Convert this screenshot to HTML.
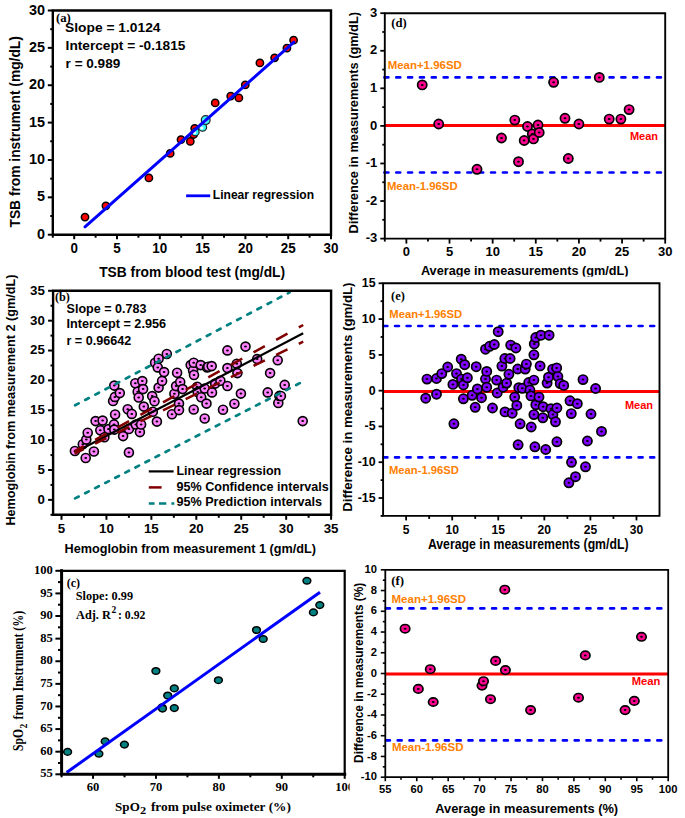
<!DOCTYPE html>
<html><head><meta charset="utf-8"><style>
html,body{margin:0;padding:0;background:#fff;}
svg{display:block;}
</style></head><body>
<svg width="685" height="818" viewBox="0 0 685 818">
<rect width="685" height="818" fill="#fff"/>
<circle cx="85.00" cy="217.10" r="3.65" fill="#ff0000" stroke="#000" stroke-width="1.5"/>
<circle cx="105.90" cy="205.80" r="3.65" fill="#ff0000" stroke="#000" stroke-width="1.5"/>
<circle cx="148.90" cy="177.90" r="3.65" fill="#ff0000" stroke="#000" stroke-width="1.5"/>
<circle cx="170.20" cy="153.40" r="3.65" fill="#ff0000" stroke="#000" stroke-width="1.5"/>
<circle cx="181.00" cy="139.60" r="3.65" fill="#ff0000" stroke="#000" stroke-width="1.5"/>
<circle cx="190.30" cy="141.40" r="3.65" fill="#ff0000" stroke="#000" stroke-width="1.5"/>
<circle cx="193.70" cy="134.50" r="3.65" fill="#ff0000" stroke="#000" stroke-width="1.5"/>
<circle cx="194.70" cy="128.40" r="3.65" fill="#ff0000" stroke="#000" stroke-width="1.5"/>
<circle cx="215.20" cy="102.90" r="3.65" fill="#ff0000" stroke="#000" stroke-width="1.5"/>
<circle cx="230.70" cy="96.10" r="3.65" fill="#ff0000" stroke="#000" stroke-width="1.5"/>
<circle cx="238.90" cy="97.90" r="3.65" fill="#ff0000" stroke="#000" stroke-width="1.5"/>
<circle cx="245.30" cy="84.80" r="3.65" fill="#ff0000" stroke="#000" stroke-width="1.5"/>
<circle cx="259.90" cy="62.90" r="3.65" fill="#ff0000" stroke="#000" stroke-width="1.5"/>
<circle cx="274.60" cy="57.80" r="3.65" fill="#ff0000" stroke="#000" stroke-width="1.5"/>
<circle cx="286.90" cy="48.20" r="3.65" fill="#ff0000" stroke="#000" stroke-width="1.5"/>
<circle cx="293.60" cy="40.20" r="3.65" fill="#ff0000" stroke="#000" stroke-width="1.5"/>
<circle cx="195.3" cy="132.0" r="3.8" fill="#30f8f8" stroke="#222" stroke-width="1.2"/>
<circle cx="194.5" cy="132.8" r="1.71" fill="#e8ffff"/>
<circle cx="202.6" cy="127.2" r="4.0" fill="#30f8f8" stroke="#222" stroke-width="1.2"/>
<circle cx="201.79999999999998" cy="128.0" r="1.80" fill="#e8ffff"/>
<circle cx="205.7" cy="120.1" r="4.4" fill="#30f8f8" stroke="#222" stroke-width="1.2"/>
<circle cx="204.89999999999998" cy="120.89999999999999" r="1.98" fill="#e8ffff"/>
<line x1="85.00" y1="226.80" x2="293.90" y2="42.20" stroke="#0000ff" stroke-width="3" stroke-linecap="round"/>
<path d="M52.80 10.50 H331.00 V234.70 H52.80 Z" fill="none" stroke="#000" stroke-width="2.4" stroke-linejoin="miter" stroke-linecap="square"/>
<line x1="47.80" y1="234.70" x2="52.80" y2="234.70" stroke="#000" stroke-width="2"/>
<line x1="47.80" y1="197.33" x2="52.80" y2="197.33" stroke="#000" stroke-width="2"/>
<line x1="47.80" y1="159.97" x2="52.80" y2="159.97" stroke="#000" stroke-width="2"/>
<line x1="47.80" y1="122.60" x2="52.80" y2="122.60" stroke="#000" stroke-width="2"/>
<line x1="47.80" y1="85.23" x2="52.80" y2="85.23" stroke="#000" stroke-width="2"/>
<line x1="47.80" y1="47.87" x2="52.80" y2="47.87" stroke="#000" stroke-width="2"/>
<line x1="47.80" y1="10.50" x2="52.80" y2="10.50" stroke="#000" stroke-width="2"/>
<line x1="50.20" y1="216.02" x2="52.80" y2="216.02" stroke="#000" stroke-width="2"/>
<line x1="50.20" y1="178.65" x2="52.80" y2="178.65" stroke="#000" stroke-width="2"/>
<line x1="50.20" y1="141.28" x2="52.80" y2="141.28" stroke="#000" stroke-width="2"/>
<line x1="50.20" y1="103.92" x2="52.80" y2="103.92" stroke="#000" stroke-width="2"/>
<line x1="50.20" y1="66.55" x2="52.80" y2="66.55" stroke="#000" stroke-width="2"/>
<line x1="50.20" y1="29.18" x2="52.80" y2="29.18" stroke="#000" stroke-width="2"/>
<line x1="74.20" y1="234.70" x2="74.20" y2="239.20" stroke="#000" stroke-width="2"/>
<line x1="117.00" y1="234.70" x2="117.00" y2="239.20" stroke="#000" stroke-width="2"/>
<line x1="159.80" y1="234.70" x2="159.80" y2="239.20" stroke="#000" stroke-width="2"/>
<line x1="202.60" y1="234.70" x2="202.60" y2="239.20" stroke="#000" stroke-width="2"/>
<line x1="245.40" y1="234.70" x2="245.40" y2="239.20" stroke="#000" stroke-width="2"/>
<line x1="288.20" y1="234.70" x2="288.20" y2="239.20" stroke="#000" stroke-width="2"/>
<line x1="331.00" y1="234.70" x2="331.00" y2="239.20" stroke="#000" stroke-width="2"/>
<line x1="52.80" y1="234.70" x2="52.80" y2="237.70" stroke="#000" stroke-width="2"/>
<line x1="95.60" y1="234.70" x2="95.60" y2="237.70" stroke="#000" stroke-width="2"/>
<line x1="138.40" y1="234.70" x2="138.40" y2="237.70" stroke="#000" stroke-width="2"/>
<line x1="181.20" y1="234.70" x2="181.20" y2="237.70" stroke="#000" stroke-width="2"/>
<line x1="224.00" y1="234.70" x2="224.00" y2="237.70" stroke="#000" stroke-width="2"/>
<line x1="266.80" y1="234.70" x2="266.80" y2="237.70" stroke="#000" stroke-width="2"/>
<line x1="309.60" y1="234.70" x2="309.60" y2="237.70" stroke="#000" stroke-width="2"/>
<text x="45.10" y="238.81" font-family='"Liberation Sans",sans-serif' font-weight="bold" font-size="14.4" fill="#000" text-anchor="end">0</text>
<text x="45.10" y="201.45" font-family='"Liberation Sans",sans-serif' font-weight="bold" font-size="14.4" fill="#000" text-anchor="end">5</text>
<text x="45.10" y="164.08" font-family='"Liberation Sans",sans-serif' font-weight="bold" font-size="14.4" fill="#000" text-anchor="end">10</text>
<text x="45.10" y="126.71" font-family='"Liberation Sans",sans-serif' font-weight="bold" font-size="14.4" fill="#000" text-anchor="end">15</text>
<text x="45.10" y="89.35" font-family='"Liberation Sans",sans-serif' font-weight="bold" font-size="14.4" fill="#000" text-anchor="end">20</text>
<text x="45.10" y="51.98" font-family='"Liberation Sans",sans-serif' font-weight="bold" font-size="14.4" fill="#000" text-anchor="end">25</text>
<text x="45.10" y="14.61" font-family='"Liberation Sans",sans-serif' font-weight="bold" font-size="14.4" fill="#000" text-anchor="end">30</text>
<text x="74.20" y="253.00" font-family='"Liberation Sans",sans-serif' font-weight="bold" font-size="14.4" fill="#000" text-anchor="middle" textLength="7.45" lengthAdjust="spacingAndGlyphs">0</text>
<text x="117.00" y="253.00" font-family='"Liberation Sans",sans-serif' font-weight="bold" font-size="14.4" fill="#000" text-anchor="middle" textLength="7.45" lengthAdjust="spacingAndGlyphs">5</text>
<text x="159.80" y="253.00" font-family='"Liberation Sans",sans-serif' font-weight="bold" font-size="14.4" fill="#000" text-anchor="middle" textLength="14.90" lengthAdjust="spacingAndGlyphs">10</text>
<text x="202.60" y="253.00" font-family='"Liberation Sans",sans-serif' font-weight="bold" font-size="14.4" fill="#000" text-anchor="middle" textLength="14.90" lengthAdjust="spacingAndGlyphs">15</text>
<text x="245.40" y="253.00" font-family='"Liberation Sans",sans-serif' font-weight="bold" font-size="14.4" fill="#000" text-anchor="middle" textLength="14.90" lengthAdjust="spacingAndGlyphs">20</text>
<text x="288.20" y="253.00" font-family='"Liberation Sans",sans-serif' font-weight="bold" font-size="14.4" fill="#000" text-anchor="middle" textLength="14.90" lengthAdjust="spacingAndGlyphs">25</text>
<text x="331.00" y="253.00" font-family='"Liberation Sans",sans-serif' font-weight="bold" font-size="14.4" fill="#000" text-anchor="middle" textLength="14.90" lengthAdjust="spacingAndGlyphs">30</text>
<text x="20.40" y="227.50" font-family='"Liberation Sans",sans-serif' font-weight="bold" font-size="13.8" fill="#000" text-anchor="start" textLength="191.38" lengthAdjust="spacingAndGlyphs" transform="rotate(-90 20.40 227.50)">TSB from instrument (mg/dL)</text>
<text x="99.20" y="276.70" font-family='"Liberation Sans",sans-serif' font-weight="bold" font-size="13.8" fill="#000" text-anchor="start" textLength="185.88" lengthAdjust="spacingAndGlyphs">TSB from blood test (mg/dL)</text>
<text x="55.90" y="22.10" font-family='"Liberation Serif",serif' font-weight="bold" font-size="12.2" fill="#000" text-anchor="start" textLength="14.91" lengthAdjust="spacingAndGlyphs">(a)</text>
<text x="65.00" y="32.40" font-family='"Liberation Sans",sans-serif' font-weight="bold" font-size="13.7" fill="#000" text-anchor="start" textLength="95.51" lengthAdjust="spacingAndGlyphs">Slope = 1.0124</text>
<text x="65.60" y="50.40" font-family='"Liberation Sans",sans-serif' font-weight="bold" font-size="13.7" fill="#000" text-anchor="start" textLength="119.79" lengthAdjust="spacingAndGlyphs">Intercept = -0.1815</text>
<text x="65.60" y="67.60" font-family='"Liberation Sans",sans-serif' font-weight="bold" font-size="13.7" fill="#000" text-anchor="start" textLength="54.62" lengthAdjust="spacingAndGlyphs">r = 0.989</text>
<line x1="186.10" y1="195.80" x2="210.20" y2="195.80" stroke="#0000ff" stroke-width="2.8"/>
<text x="212.80" y="199.30" font-family='"Liberation Sans",sans-serif' font-weight="bold" font-size="12.2" fill="#000" text-anchor="start" textLength="101.23" lengthAdjust="spacingAndGlyphs">Linear regression</text>
<line x1="384.40" y1="77.40" x2="664.20" y2="77.40" stroke="#0000ff" stroke-width="2.6" stroke-dasharray="4.00 7.85" stroke-linecap="round"/>
<line x1="384.40" y1="172.50" x2="664.20" y2="172.50" stroke="#0000ff" stroke-width="2.6" stroke-dasharray="4.00 7.85" stroke-linecap="round"/>
<line x1="384.80" y1="125.50" x2="665.20" y2="125.50" stroke="#ff0000" stroke-width="2.9"/>
<circle cx="422.20" cy="84.90" r="4.6" fill="#ff0090" stroke="#000" stroke-width="1.7"/>
<ellipse cx="422.20" cy="84.90" rx="1.40" ry="1.00" fill="#000"/>
<circle cx="438.70" cy="124.00" r="4.6" fill="#ff0090" stroke="#000" stroke-width="1.7"/>
<ellipse cx="438.70" cy="124.00" rx="1.40" ry="1.00" fill="#000"/>
<circle cx="477.00" cy="169.30" r="4.6" fill="#ff0090" stroke="#000" stroke-width="1.7"/>
<ellipse cx="477.00" cy="169.30" rx="1.40" ry="1.00" fill="#000"/>
<circle cx="501.50" cy="138.00" r="4.6" fill="#ff0090" stroke="#000" stroke-width="1.7"/>
<ellipse cx="501.50" cy="138.00" rx="1.40" ry="1.00" fill="#000"/>
<circle cx="514.80" cy="120.10" r="4.6" fill="#ff0090" stroke="#000" stroke-width="1.7"/>
<ellipse cx="514.80" cy="120.10" rx="1.40" ry="1.00" fill="#000"/>
<circle cx="518.50" cy="161.70" r="4.6" fill="#ff0090" stroke="#000" stroke-width="1.7"/>
<ellipse cx="518.50" cy="161.70" rx="1.40" ry="1.00" fill="#000"/>
<circle cx="524.20" cy="140.50" r="4.6" fill="#ff0090" stroke="#000" stroke-width="1.7"/>
<ellipse cx="524.20" cy="140.50" rx="1.40" ry="1.00" fill="#000"/>
<circle cx="527.50" cy="126.50" r="4.6" fill="#ff0090" stroke="#000" stroke-width="1.7"/>
<ellipse cx="527.50" cy="126.50" rx="1.40" ry="1.00" fill="#000"/>
<circle cx="532.30" cy="134.00" r="4.6" fill="#ff0090" stroke="#000" stroke-width="1.7"/>
<ellipse cx="532.30" cy="134.00" rx="1.40" ry="1.00" fill="#000"/>
<circle cx="533.50" cy="138.90" r="4.6" fill="#ff0090" stroke="#000" stroke-width="1.7"/>
<ellipse cx="533.50" cy="138.90" rx="1.40" ry="1.00" fill="#000"/>
<circle cx="538.00" cy="125.00" r="4.6" fill="#ff0090" stroke="#000" stroke-width="1.7"/>
<ellipse cx="538.00" cy="125.00" rx="1.40" ry="1.00" fill="#000"/>
<circle cx="539.20" cy="132.50" r="4.6" fill="#ff0090" stroke="#000" stroke-width="1.7"/>
<ellipse cx="539.20" cy="132.50" rx="1.40" ry="1.00" fill="#000"/>
<circle cx="553.60" cy="82.30" r="4.6" fill="#ff0090" stroke="#000" stroke-width="1.7"/>
<ellipse cx="553.60" cy="82.30" rx="1.40" ry="1.00" fill="#000"/>
<circle cx="565.00" cy="118.30" r="4.6" fill="#ff0090" stroke="#000" stroke-width="1.7"/>
<ellipse cx="565.00" cy="118.30" rx="1.40" ry="1.00" fill="#000"/>
<circle cx="568.30" cy="158.50" r="4.6" fill="#ff0090" stroke="#000" stroke-width="1.7"/>
<ellipse cx="568.30" cy="158.50" rx="1.40" ry="1.00" fill="#000"/>
<circle cx="578.90" cy="124.00" r="4.6" fill="#ff0090" stroke="#000" stroke-width="1.7"/>
<ellipse cx="578.90" cy="124.00" rx="1.40" ry="1.00" fill="#000"/>
<circle cx="599.30" cy="77.40" r="4.6" fill="#ff0090" stroke="#000" stroke-width="1.7"/>
<ellipse cx="599.30" cy="77.40" rx="1.40" ry="1.00" fill="#000"/>
<circle cx="609.20" cy="119.10" r="4.6" fill="#ff0090" stroke="#000" stroke-width="1.7"/>
<ellipse cx="609.20" cy="119.10" rx="1.40" ry="1.00" fill="#000"/>
<circle cx="620.90" cy="119.10" r="4.6" fill="#ff0090" stroke="#000" stroke-width="1.7"/>
<ellipse cx="620.90" cy="119.10" rx="1.40" ry="1.00" fill="#000"/>
<circle cx="629.10" cy="109.60" r="4.6" fill="#ff0090" stroke="#000" stroke-width="1.7"/>
<ellipse cx="629.10" cy="109.60" rx="1.40" ry="1.00" fill="#000"/>
<path d="M384.80 13.20 H665.20 V238.60 H384.80 Z" fill="none" stroke="#000" stroke-width="1.9" stroke-linejoin="miter" stroke-linecap="square"/>
<line x1="380.30" y1="238.60" x2="384.80" y2="238.60" stroke="#000" stroke-width="1.8"/>
<line x1="380.30" y1="201.03" x2="384.80" y2="201.03" stroke="#000" stroke-width="1.8"/>
<line x1="380.30" y1="163.47" x2="384.80" y2="163.47" stroke="#000" stroke-width="1.8"/>
<line x1="380.30" y1="125.90" x2="384.80" y2="125.90" stroke="#000" stroke-width="1.8"/>
<line x1="380.30" y1="88.33" x2="384.80" y2="88.33" stroke="#000" stroke-width="1.8"/>
<line x1="380.30" y1="50.77" x2="384.80" y2="50.77" stroke="#000" stroke-width="1.8"/>
<line x1="380.30" y1="13.20" x2="384.80" y2="13.20" stroke="#000" stroke-width="1.8"/>
<line x1="382.30" y1="219.82" x2="384.80" y2="219.82" stroke="#000" stroke-width="1.8"/>
<line x1="382.30" y1="182.25" x2="384.80" y2="182.25" stroke="#000" stroke-width="1.8"/>
<line x1="382.30" y1="144.68" x2="384.80" y2="144.68" stroke="#000" stroke-width="1.8"/>
<line x1="382.30" y1="107.12" x2="384.80" y2="107.12" stroke="#000" stroke-width="1.8"/>
<line x1="382.30" y1="69.55" x2="384.80" y2="69.55" stroke="#000" stroke-width="1.8"/>
<line x1="382.30" y1="31.98" x2="384.80" y2="31.98" stroke="#000" stroke-width="1.8"/>
<line x1="406.37" y1="238.60" x2="406.37" y2="243.60" stroke="#000" stroke-width="1.8"/>
<line x1="449.51" y1="238.60" x2="449.51" y2="243.60" stroke="#000" stroke-width="1.8"/>
<line x1="492.65" y1="238.60" x2="492.65" y2="243.60" stroke="#000" stroke-width="1.8"/>
<line x1="535.78" y1="238.60" x2="535.78" y2="243.60" stroke="#000" stroke-width="1.8"/>
<line x1="578.92" y1="238.60" x2="578.92" y2="243.60" stroke="#000" stroke-width="1.8"/>
<line x1="622.06" y1="238.60" x2="622.06" y2="243.60" stroke="#000" stroke-width="1.8"/>
<line x1="665.20" y1="238.60" x2="665.20" y2="243.60" stroke="#000" stroke-width="1.8"/>
<line x1="384.80" y1="238.60" x2="384.80" y2="241.60" stroke="#000" stroke-width="1.8"/>
<line x1="427.94" y1="238.60" x2="427.94" y2="241.60" stroke="#000" stroke-width="1.8"/>
<line x1="471.08" y1="238.60" x2="471.08" y2="241.60" stroke="#000" stroke-width="1.8"/>
<line x1="514.22" y1="238.60" x2="514.22" y2="241.60" stroke="#000" stroke-width="1.8"/>
<line x1="557.35" y1="238.60" x2="557.35" y2="241.60" stroke="#000" stroke-width="1.8"/>
<line x1="600.49" y1="238.60" x2="600.49" y2="241.60" stroke="#000" stroke-width="1.8"/>
<line x1="643.63" y1="238.60" x2="643.63" y2="241.60" stroke="#000" stroke-width="1.8"/>
<text x="377.20" y="242.22" font-family='"Liberation Sans",sans-serif' font-weight="bold" font-size="13" fill="#000" text-anchor="end">-3</text>
<text x="377.20" y="204.65" font-family='"Liberation Sans",sans-serif' font-weight="bold" font-size="13" fill="#000" text-anchor="end">-2</text>
<text x="377.20" y="167.08" font-family='"Liberation Sans",sans-serif' font-weight="bold" font-size="13" fill="#000" text-anchor="end">-1</text>
<text x="377.20" y="129.51" font-family='"Liberation Sans",sans-serif' font-weight="bold" font-size="13" fill="#000" text-anchor="end">0</text>
<text x="377.20" y="91.95" font-family='"Liberation Sans",sans-serif' font-weight="bold" font-size="13" fill="#000" text-anchor="end">1</text>
<text x="377.20" y="54.38" font-family='"Liberation Sans",sans-serif' font-weight="bold" font-size="13" fill="#000" text-anchor="end">2</text>
<text x="377.20" y="16.81" font-family='"Liberation Sans",sans-serif' font-weight="bold" font-size="13" fill="#000" text-anchor="end">3</text>
<text x="406.37" y="256.00" font-family='"Liberation Sans",sans-serif' font-weight="bold" font-size="13" fill="#000" text-anchor="middle">0</text>
<text x="449.51" y="256.00" font-family='"Liberation Sans",sans-serif' font-weight="bold" font-size="13" fill="#000" text-anchor="middle">5</text>
<text x="492.65" y="256.00" font-family='"Liberation Sans",sans-serif' font-weight="bold" font-size="13" fill="#000" text-anchor="middle">10</text>
<text x="535.78" y="256.00" font-family='"Liberation Sans",sans-serif' font-weight="bold" font-size="13" fill="#000" text-anchor="middle">15</text>
<text x="578.92" y="256.00" font-family='"Liberation Sans",sans-serif' font-weight="bold" font-size="13" fill="#000" text-anchor="middle">20</text>
<text x="622.06" y="256.00" font-family='"Liberation Sans",sans-serif' font-weight="bold" font-size="13" fill="#000" text-anchor="middle">25</text>
<text x="665.20" y="256.00" font-family='"Liberation Sans",sans-serif' font-weight="bold" font-size="13" fill="#000" text-anchor="middle">30</text>
<text x="357.60" y="233.50" font-family='"Liberation Sans",sans-serif' font-weight="bold" font-size="13" fill="#000" text-anchor="start" textLength="221.47" lengthAdjust="spacingAndGlyphs" transform="rotate(-90 357.60 233.50)">Difference in measurements (gm/dL)</text>
<text x="420.90" y="274.70" font-family='"Liberation Sans",sans-serif' font-weight="bold" font-size="13" fill="#000" text-anchor="start" textLength="207.62" lengthAdjust="spacingAndGlyphs">Average in measurements (gm/dL)</text>
<text x="391.30" y="27.40" font-family='"Liberation Serif",serif' font-weight="bold" font-size="12.2" fill="#000" text-anchor="start" textLength="15.43" lengthAdjust="spacingAndGlyphs">(d)</text>
<text x="387.70" y="69.20" font-family='"Liberation Sans",sans-serif' font-weight="bold" font-size="10.6" fill="#ff8000" text-anchor="start" textLength="74.11" lengthAdjust="spacingAndGlyphs">Mean+1.96SD</text>
<text x="386.90" y="189.70" font-family='"Liberation Sans",sans-serif' font-weight="bold" font-size="10.6" fill="#ff8000" text-anchor="start" textLength="70.70" lengthAdjust="spacingAndGlyphs">Mean-1.96SD</text>
<text x="629.90" y="139.80" font-family='"Liberation Sans",sans-serif' font-weight="bold" font-size="11.2" fill="#ff0000" text-anchor="start" textLength="28.21" lengthAdjust="spacingAndGlyphs">Mean</text>
<rect x="340.00" y="276.60" width="345.00" height="280.00" fill="#fff" stroke="none" stroke-width="0"/>
<circle cx="74.90" cy="451.00" r="4.5" fill="#ff80ff" stroke="#000" stroke-width="1.6"/>
<ellipse cx="74.90" cy="451.00" rx="1.40" ry="1.00" fill="#000"/>
<circle cx="82.80" cy="444.20" r="4.5" fill="#ff80ff" stroke="#000" stroke-width="1.6"/>
<ellipse cx="82.80" cy="444.20" rx="1.40" ry="1.00" fill="#000"/>
<circle cx="85.70" cy="458.00" r="4.5" fill="#ff80ff" stroke="#000" stroke-width="1.6"/>
<ellipse cx="85.70" cy="458.00" rx="1.40" ry="1.00" fill="#000"/>
<circle cx="86.30" cy="439.60" r="4.5" fill="#ff80ff" stroke="#000" stroke-width="1.6"/>
<ellipse cx="86.30" cy="439.60" rx="1.40" ry="1.00" fill="#000"/>
<circle cx="87.70" cy="432.80" r="4.5" fill="#ff80ff" stroke="#000" stroke-width="1.6"/>
<ellipse cx="87.70" cy="432.80" rx="1.40" ry="1.00" fill="#000"/>
<circle cx="93.90" cy="451.50" r="4.5" fill="#ff80ff" stroke="#000" stroke-width="1.6"/>
<ellipse cx="93.90" cy="451.50" rx="1.40" ry="1.00" fill="#000"/>
<circle cx="95.60" cy="421.10" r="4.5" fill="#ff80ff" stroke="#000" stroke-width="1.6"/>
<ellipse cx="95.60" cy="421.10" rx="1.40" ry="1.00" fill="#000"/>
<circle cx="100.30" cy="430.20" r="4.5" fill="#ff80ff" stroke="#000" stroke-width="1.6"/>
<ellipse cx="100.30" cy="430.20" rx="1.40" ry="1.00" fill="#000"/>
<circle cx="102.60" cy="420.60" r="4.5" fill="#ff80ff" stroke="#000" stroke-width="1.6"/>
<ellipse cx="102.60" cy="420.60" rx="1.40" ry="1.00" fill="#000"/>
<circle cx="104.40" cy="437.20" r="4.5" fill="#ff80ff" stroke="#000" stroke-width="1.6"/>
<ellipse cx="104.40" cy="437.20" rx="1.40" ry="1.00" fill="#000"/>
<circle cx="108.50" cy="429.10" r="4.5" fill="#ff80ff" stroke="#000" stroke-width="1.6"/>
<ellipse cx="108.50" cy="429.10" rx="1.40" ry="1.00" fill="#000"/>
<circle cx="113.10" cy="401.00" r="4.5" fill="#ff80ff" stroke="#000" stroke-width="1.6"/>
<ellipse cx="113.10" cy="401.00" rx="1.40" ry="1.00" fill="#000"/>
<circle cx="114.00" cy="424.40" r="4.5" fill="#ff80ff" stroke="#000" stroke-width="1.6"/>
<ellipse cx="114.00" cy="424.40" rx="1.40" ry="1.00" fill="#000"/>
<circle cx="114.30" cy="385.60" r="4.5" fill="#ff80ff" stroke="#000" stroke-width="1.6"/>
<ellipse cx="114.30" cy="385.60" rx="1.40" ry="1.00" fill="#000"/>
<circle cx="114.30" cy="429.60" r="4.5" fill="#ff80ff" stroke="#000" stroke-width="1.6"/>
<ellipse cx="114.30" cy="429.60" rx="1.40" ry="1.00" fill="#000"/>
<circle cx="114.90" cy="396.90" r="4.5" fill="#ff80ff" stroke="#000" stroke-width="1.6"/>
<ellipse cx="114.90" cy="396.90" rx="1.40" ry="1.00" fill="#000"/>
<circle cx="115.10" cy="414.50" r="4.5" fill="#ff80ff" stroke="#000" stroke-width="1.6"/>
<ellipse cx="115.10" cy="414.50" rx="1.40" ry="1.00" fill="#000"/>
<circle cx="119.80" cy="393.10" r="4.5" fill="#ff80ff" stroke="#000" stroke-width="1.6"/>
<ellipse cx="119.80" cy="393.10" rx="1.40" ry="1.00" fill="#000"/>
<circle cx="123.10" cy="436.10" r="4.5" fill="#ff80ff" stroke="#000" stroke-width="1.6"/>
<ellipse cx="123.10" cy="436.10" rx="1.40" ry="1.00" fill="#000"/>
<circle cx="127.70" cy="409.20" r="4.5" fill="#ff80ff" stroke="#000" stroke-width="1.6"/>
<ellipse cx="127.70" cy="409.20" rx="1.40" ry="1.00" fill="#000"/>
<circle cx="128.90" cy="429.00" r="4.5" fill="#ff80ff" stroke="#000" stroke-width="1.6"/>
<ellipse cx="128.90" cy="429.00" rx="1.40" ry="1.00" fill="#000"/>
<circle cx="128.90" cy="452.40" r="4.5" fill="#ff80ff" stroke="#000" stroke-width="1.6"/>
<ellipse cx="128.90" cy="452.40" rx="1.40" ry="1.00" fill="#000"/>
<circle cx="131.80" cy="413.90" r="4.5" fill="#ff80ff" stroke="#000" stroke-width="1.6"/>
<ellipse cx="131.80" cy="413.90" rx="1.40" ry="1.00" fill="#000"/>
<circle cx="135.30" cy="383.30" r="4.5" fill="#ff80ff" stroke="#000" stroke-width="1.6"/>
<ellipse cx="135.30" cy="383.30" rx="1.40" ry="1.00" fill="#000"/>
<circle cx="135.80" cy="424.50" r="4.5" fill="#ff80ff" stroke="#000" stroke-width="1.6"/>
<ellipse cx="135.80" cy="424.50" rx="1.40" ry="1.00" fill="#000"/>
<circle cx="137.70" cy="391.70" r="4.5" fill="#ff80ff" stroke="#000" stroke-width="1.6"/>
<ellipse cx="137.70" cy="391.70" rx="1.40" ry="1.00" fill="#000"/>
<circle cx="138.70" cy="397.50" r="4.5" fill="#ff80ff" stroke="#000" stroke-width="1.6"/>
<ellipse cx="138.70" cy="397.50" rx="1.40" ry="1.00" fill="#000"/>
<circle cx="139.90" cy="432.10" r="4.5" fill="#ff80ff" stroke="#000" stroke-width="1.6"/>
<ellipse cx="139.90" cy="432.10" rx="1.40" ry="1.00" fill="#000"/>
<circle cx="141.10" cy="424.50" r="4.5" fill="#ff80ff" stroke="#000" stroke-width="1.6"/>
<ellipse cx="141.10" cy="424.50" rx="1.40" ry="1.00" fill="#000"/>
<circle cx="142.30" cy="381.10" r="4.5" fill="#ff80ff" stroke="#000" stroke-width="1.6"/>
<ellipse cx="142.30" cy="381.10" rx="1.40" ry="1.00" fill="#000"/>
<circle cx="143.10" cy="389.10" r="4.5" fill="#ff80ff" stroke="#000" stroke-width="1.6"/>
<ellipse cx="143.10" cy="389.10" rx="1.40" ry="1.00" fill="#000"/>
<circle cx="143.80" cy="406.60" r="4.5" fill="#ff80ff" stroke="#000" stroke-width="1.6"/>
<ellipse cx="143.80" cy="406.60" rx="1.40" ry="1.00" fill="#000"/>
<circle cx="152.20" cy="396.10" r="4.5" fill="#ff80ff" stroke="#000" stroke-width="1.6"/>
<ellipse cx="152.20" cy="396.10" rx="1.40" ry="1.00" fill="#000"/>
<circle cx="152.80" cy="411.80" r="4.5" fill="#ff80ff" stroke="#000" stroke-width="1.6"/>
<ellipse cx="152.80" cy="411.80" rx="1.40" ry="1.00" fill="#000"/>
<circle cx="154.50" cy="401.30" r="4.5" fill="#ff80ff" stroke="#000" stroke-width="1.6"/>
<ellipse cx="154.50" cy="401.30" rx="1.40" ry="1.00" fill="#000"/>
<circle cx="155.10" cy="362.80" r="4.5" fill="#ff80ff" stroke="#000" stroke-width="1.6"/>
<ellipse cx="155.10" cy="362.80" rx="1.40" ry="1.00" fill="#000"/>
<circle cx="156.90" cy="421.60" r="4.5" fill="#ff80ff" stroke="#000" stroke-width="1.6"/>
<ellipse cx="156.90" cy="421.60" rx="1.40" ry="1.00" fill="#000"/>
<circle cx="157.80" cy="367.40" r="4.5" fill="#ff80ff" stroke="#000" stroke-width="1.6"/>
<ellipse cx="157.80" cy="367.40" rx="1.40" ry="1.00" fill="#000"/>
<circle cx="158.60" cy="358.70" r="4.5" fill="#ff80ff" stroke="#000" stroke-width="1.6"/>
<ellipse cx="158.60" cy="358.70" rx="1.40" ry="1.00" fill="#000"/>
<circle cx="158.60" cy="387.60" r="4.5" fill="#ff80ff" stroke="#000" stroke-width="1.6"/>
<ellipse cx="158.60" cy="387.60" rx="1.40" ry="1.00" fill="#000"/>
<circle cx="162.10" cy="380.90" r="4.5" fill="#ff80ff" stroke="#000" stroke-width="1.6"/>
<ellipse cx="162.10" cy="380.90" rx="1.40" ry="1.00" fill="#000"/>
<circle cx="164.10" cy="372.10" r="4.5" fill="#ff80ff" stroke="#000" stroke-width="1.6"/>
<ellipse cx="164.10" cy="372.10" rx="1.40" ry="1.00" fill="#000"/>
<circle cx="166.80" cy="354.00" r="4.5" fill="#ff80ff" stroke="#000" stroke-width="1.6"/>
<ellipse cx="166.80" cy="354.00" rx="1.40" ry="1.00" fill="#000"/>
<circle cx="172.00" cy="414.20" r="4.5" fill="#ff80ff" stroke="#000" stroke-width="1.6"/>
<ellipse cx="172.00" cy="414.20" rx="1.40" ry="1.00" fill="#000"/>
<circle cx="174.40" cy="393.70" r="4.5" fill="#ff80ff" stroke="#000" stroke-width="1.6"/>
<ellipse cx="174.40" cy="393.70" rx="1.40" ry="1.00" fill="#000"/>
<circle cx="176.10" cy="386.10" r="4.5" fill="#ff80ff" stroke="#000" stroke-width="1.6"/>
<ellipse cx="176.10" cy="386.10" rx="1.40" ry="1.00" fill="#000"/>
<circle cx="177.10" cy="372.70" r="4.5" fill="#ff80ff" stroke="#000" stroke-width="1.6"/>
<ellipse cx="177.10" cy="372.70" rx="1.40" ry="1.00" fill="#000"/>
<circle cx="179.00" cy="403.60" r="4.5" fill="#ff80ff" stroke="#000" stroke-width="1.6"/>
<ellipse cx="179.00" cy="403.60" rx="1.40" ry="1.00" fill="#000"/>
<circle cx="179.00" cy="410.10" r="4.5" fill="#ff80ff" stroke="#000" stroke-width="1.6"/>
<ellipse cx="179.00" cy="410.10" rx="1.40" ry="1.00" fill="#000"/>
<circle cx="180.20" cy="382.00" r="4.5" fill="#ff80ff" stroke="#000" stroke-width="1.6"/>
<ellipse cx="180.20" cy="382.00" rx="1.40" ry="1.00" fill="#000"/>
<circle cx="182.60" cy="389.10" r="4.5" fill="#ff80ff" stroke="#000" stroke-width="1.6"/>
<ellipse cx="182.60" cy="389.10" rx="1.40" ry="1.00" fill="#000"/>
<circle cx="190.70" cy="365.10" r="4.5" fill="#ff80ff" stroke="#000" stroke-width="1.6"/>
<ellipse cx="190.70" cy="365.10" rx="1.40" ry="1.00" fill="#000"/>
<circle cx="193.10" cy="370.40" r="4.5" fill="#ff80ff" stroke="#000" stroke-width="1.6"/>
<ellipse cx="193.10" cy="370.40" rx="1.40" ry="1.00" fill="#000"/>
<circle cx="193.70" cy="362.80" r="4.5" fill="#ff80ff" stroke="#000" stroke-width="1.6"/>
<ellipse cx="193.70" cy="362.80" rx="1.40" ry="1.00" fill="#000"/>
<circle cx="193.70" cy="409.50" r="4.5" fill="#ff80ff" stroke="#000" stroke-width="1.6"/>
<ellipse cx="193.70" cy="409.50" rx="1.40" ry="1.00" fill="#000"/>
<circle cx="194.00" cy="375.00" r="4.5" fill="#ff80ff" stroke="#000" stroke-width="1.6"/>
<ellipse cx="194.00" cy="375.00" rx="1.40" ry="1.00" fill="#000"/>
<circle cx="197.20" cy="386.70" r="4.5" fill="#ff80ff" stroke="#000" stroke-width="1.6"/>
<ellipse cx="197.20" cy="386.70" rx="1.40" ry="1.00" fill="#000"/>
<circle cx="197.70" cy="392.00" r="4.5" fill="#ff80ff" stroke="#000" stroke-width="1.6"/>
<ellipse cx="197.70" cy="392.00" rx="1.40" ry="1.00" fill="#000"/>
<circle cx="200.70" cy="365.10" r="4.5" fill="#ff80ff" stroke="#000" stroke-width="1.6"/>
<ellipse cx="200.70" cy="365.10" rx="1.40" ry="1.00" fill="#000"/>
<circle cx="201.20" cy="397.20" r="4.5" fill="#ff80ff" stroke="#000" stroke-width="1.6"/>
<ellipse cx="201.20" cy="397.20" rx="1.40" ry="1.00" fill="#000"/>
<circle cx="204.70" cy="388.50" r="4.5" fill="#ff80ff" stroke="#000" stroke-width="1.6"/>
<ellipse cx="204.70" cy="388.50" rx="1.40" ry="1.00" fill="#000"/>
<circle cx="204.70" cy="418.50" r="4.5" fill="#ff80ff" stroke="#000" stroke-width="1.6"/>
<ellipse cx="204.70" cy="418.50" rx="1.40" ry="1.00" fill="#000"/>
<circle cx="206.50" cy="403.60" r="4.5" fill="#ff80ff" stroke="#000" stroke-width="1.6"/>
<ellipse cx="206.50" cy="403.60" rx="1.40" ry="1.00" fill="#000"/>
<circle cx="207.10" cy="367.40" r="4.5" fill="#ff80ff" stroke="#000" stroke-width="1.6"/>
<ellipse cx="207.10" cy="367.40" rx="1.40" ry="1.00" fill="#000"/>
<circle cx="208.20" cy="366.70" r="4.5" fill="#ff80ff" stroke="#000" stroke-width="1.6"/>
<ellipse cx="208.20" cy="366.70" rx="1.40" ry="1.00" fill="#000"/>
<circle cx="211.70" cy="366.10" r="4.5" fill="#ff80ff" stroke="#000" stroke-width="1.6"/>
<ellipse cx="211.70" cy="366.10" rx="1.40" ry="1.00" fill="#000"/>
<circle cx="212.00" cy="392.40" r="4.5" fill="#ff80ff" stroke="#000" stroke-width="1.6"/>
<ellipse cx="212.00" cy="392.40" rx="1.40" ry="1.00" fill="#000"/>
<circle cx="215.20" cy="383.60" r="4.5" fill="#ff80ff" stroke="#000" stroke-width="1.6"/>
<ellipse cx="215.20" cy="383.60" rx="1.40" ry="1.00" fill="#000"/>
<circle cx="220.40" cy="380.70" r="4.5" fill="#ff80ff" stroke="#000" stroke-width="1.6"/>
<ellipse cx="220.40" cy="380.70" rx="1.40" ry="1.00" fill="#000"/>
<circle cx="223.00" cy="409.80" r="4.5" fill="#ff80ff" stroke="#000" stroke-width="1.6"/>
<ellipse cx="223.00" cy="409.80" rx="1.40" ry="1.00" fill="#000"/>
<circle cx="227.40" cy="350.40" r="4.5" fill="#ff80ff" stroke="#000" stroke-width="1.6"/>
<ellipse cx="227.40" cy="350.40" rx="1.40" ry="1.00" fill="#000"/>
<circle cx="227.40" cy="368.10" r="4.5" fill="#ff80ff" stroke="#000" stroke-width="1.6"/>
<ellipse cx="227.40" cy="368.10" rx="1.40" ry="1.00" fill="#000"/>
<circle cx="227.40" cy="386.00" r="4.5" fill="#ff80ff" stroke="#000" stroke-width="1.6"/>
<ellipse cx="227.40" cy="386.00" rx="1.40" ry="1.00" fill="#000"/>
<circle cx="234.40" cy="403.70" r="4.5" fill="#ff80ff" stroke="#000" stroke-width="1.6"/>
<ellipse cx="234.40" cy="403.70" rx="1.40" ry="1.00" fill="#000"/>
<circle cx="236.80" cy="363.80" r="4.5" fill="#ff80ff" stroke="#000" stroke-width="1.6"/>
<ellipse cx="236.80" cy="363.80" rx="1.40" ry="1.00" fill="#000"/>
<circle cx="237.40" cy="373.10" r="4.5" fill="#ff80ff" stroke="#000" stroke-width="1.6"/>
<ellipse cx="237.40" cy="373.10" rx="1.40" ry="1.00" fill="#000"/>
<circle cx="240.90" cy="393.60" r="4.5" fill="#ff80ff" stroke="#000" stroke-width="1.6"/>
<ellipse cx="240.90" cy="393.60" rx="1.40" ry="1.00" fill="#000"/>
<circle cx="245.50" cy="346.60" r="4.5" fill="#ff80ff" stroke="#000" stroke-width="1.6"/>
<ellipse cx="245.50" cy="346.60" rx="1.40" ry="1.00" fill="#000"/>
<circle cx="257.20" cy="359.10" r="4.5" fill="#ff80ff" stroke="#000" stroke-width="1.6"/>
<ellipse cx="257.20" cy="359.10" rx="1.40" ry="1.00" fill="#000"/>
<circle cx="267.70" cy="392.40" r="4.5" fill="#ff80ff" stroke="#000" stroke-width="1.6"/>
<ellipse cx="267.70" cy="392.40" rx="1.40" ry="1.00" fill="#000"/>
<circle cx="270.10" cy="373.10" r="4.5" fill="#ff80ff" stroke="#000" stroke-width="1.6"/>
<ellipse cx="270.10" cy="373.10" rx="1.40" ry="1.00" fill="#000"/>
<circle cx="277.70" cy="360.30" r="4.5" fill="#ff80ff" stroke="#000" stroke-width="1.6"/>
<ellipse cx="277.70" cy="360.30" rx="1.40" ry="1.00" fill="#000"/>
<circle cx="278.30" cy="403.00" r="4.5" fill="#ff80ff" stroke="#000" stroke-width="1.6"/>
<ellipse cx="278.30" cy="403.00" rx="1.40" ry="1.00" fill="#000"/>
<circle cx="279.40" cy="395.90" r="4.5" fill="#ff80ff" stroke="#000" stroke-width="1.6"/>
<ellipse cx="279.40" cy="395.90" rx="1.40" ry="1.00" fill="#000"/>
<circle cx="280.90" cy="396.00" r="4.5" fill="#ff80ff" stroke="#000" stroke-width="1.6"/>
<ellipse cx="280.90" cy="396.00" rx="1.40" ry="1.00" fill="#000"/>
<circle cx="284.70" cy="384.90" r="4.5" fill="#ff80ff" stroke="#000" stroke-width="1.6"/>
<ellipse cx="284.70" cy="384.90" rx="1.40" ry="1.00" fill="#000"/>
<circle cx="302.70" cy="421.10" r="4.5" fill="#ff80ff" stroke="#000" stroke-width="1.6"/>
<ellipse cx="302.70" cy="421.10" rx="1.40" ry="1.00" fill="#000"/>
<path d="M75.10 405.27 L78.70 403.38 M85.23 399.94 L88.83 398.05 M95.36 394.61 L98.96 392.71 M105.49 389.28 L109.09 387.38 M115.62 383.95 L119.22 382.05 M125.75 378.62 L129.35 376.72 M135.88 373.29 L139.48 371.39 M146.01 367.96 L149.61 366.06 M156.14 362.63 L159.74 360.73 M166.27 357.30 L169.87 355.40 M176.40 351.97 L180.00 350.07 M186.53 346.64 L190.13 344.74 M196.66 341.31 L200.26 339.41 M206.79 335.97 L210.39 334.08 M216.92 330.64 L220.52 328.75 M227.05 325.31 L230.65 323.42 M237.18 319.98 L240.78 318.09 M247.31 314.65 L250.91 312.76 M257.44 309.32 L261.04 307.43 M267.57 303.99 L271.17 302.10 M277.70 298.66 L281.30 296.77 M287.83 293.33 L289.60 292.40" fill="none" stroke="#008080" stroke-width="2.7" stroke-linecap="round"/>
<path d="M75.10 498.39 L78.70 496.54 M85.15 493.24 L88.75 491.39 M95.20 488.08 L98.80 486.24 M105.25 482.93 L108.85 481.08 M115.30 477.78 L118.90 475.93 M125.35 472.62 L128.95 470.78 M135.40 467.47 L139.00 465.62 M145.45 462.31 L149.05 460.47 M155.50 457.16 L159.10 455.31 M165.55 452.01 L169.15 450.16 M175.60 446.85 L179.20 445.01 M185.65 441.70 L189.25 439.85 M195.70 436.55 L199.30 434.70 M205.75 431.39 L209.35 429.55 M215.80 426.24 L219.40 424.39 M225.85 421.08 L229.45 419.24 M235.90 415.93 L239.50 414.08 M245.95 410.78 L249.55 408.93 M256.00 405.62 L259.60 403.78 M266.05 400.47 L269.65 398.62 M276.10 395.32 L279.70 393.47 M286.15 390.16 L289.75 388.32 M296.20 385.01 L299.80 383.16" fill="none" stroke="#008080" stroke-width="2.7" stroke-linecap="round"/>
<line x1="74.60" y1="452.40" x2="303.20" y2="333.30" stroke="#000" stroke-width="2.2"/>
<path d="M74.60 451.11 L83.80 446.04 M74.60 453.69 L83.80 449.18 M95.13 439.79 L106.43 433.55 M95.13 443.62 L106.43 438.08 M117.76 427.30 L129.06 421.07 M117.76 432.53 L129.06 426.99 M140.39 414.82 L151.69 408.58 M140.39 421.43 L151.69 415.89 M163.02 402.33 L174.32 396.10 M163.02 410.34 L174.32 404.80 M185.65 389.85 L196.95 383.61 M185.65 399.24 L196.95 393.70 M208.28 377.36 L219.58 371.13 M208.28 388.14 L219.58 382.60 M230.91 364.88 L242.21 358.64 M230.91 377.05 L242.21 371.51 M253.54 352.39 L264.84 346.16 M253.54 365.95 L264.84 360.41 M276.17 339.91 L287.47 333.67 M276.17 354.86 L287.47 349.32 M298.80 327.42 L303.20 324.99 M298.80 343.76 L303.20 341.61" fill="none" stroke="#800000" stroke-width="2.5"/>
<path d="M53.10 290.80 H331.10 V514.80 H53.10 Z" fill="none" stroke="#000" stroke-width="2.4" stroke-linejoin="miter" stroke-linecap="square"/>
<line x1="48.10" y1="499.87" x2="53.10" y2="499.87" stroke="#000" stroke-width="2"/>
<line x1="48.10" y1="470.00" x2="53.10" y2="470.00" stroke="#000" stroke-width="2"/>
<line x1="48.10" y1="440.13" x2="53.10" y2="440.13" stroke="#000" stroke-width="2"/>
<line x1="48.10" y1="410.27" x2="53.10" y2="410.27" stroke="#000" stroke-width="2"/>
<line x1="48.10" y1="380.40" x2="53.10" y2="380.40" stroke="#000" stroke-width="2"/>
<line x1="48.10" y1="350.53" x2="53.10" y2="350.53" stroke="#000" stroke-width="2"/>
<line x1="48.10" y1="320.67" x2="53.10" y2="320.67" stroke="#000" stroke-width="2"/>
<line x1="48.10" y1="290.80" x2="53.10" y2="290.80" stroke="#000" stroke-width="2"/>
<line x1="50.50" y1="514.80" x2="53.10" y2="514.80" stroke="#000" stroke-width="2"/>
<line x1="50.50" y1="484.93" x2="53.10" y2="484.93" stroke="#000" stroke-width="2"/>
<line x1="50.50" y1="455.07" x2="53.10" y2="455.07" stroke="#000" stroke-width="2"/>
<line x1="50.50" y1="425.20" x2="53.10" y2="425.20" stroke="#000" stroke-width="2"/>
<line x1="50.50" y1="395.33" x2="53.10" y2="395.33" stroke="#000" stroke-width="2"/>
<line x1="50.50" y1="365.47" x2="53.10" y2="365.47" stroke="#000" stroke-width="2"/>
<line x1="50.50" y1="335.60" x2="53.10" y2="335.60" stroke="#000" stroke-width="2"/>
<line x1="50.50" y1="305.73" x2="53.10" y2="305.73" stroke="#000" stroke-width="2"/>
<line x1="61.50" y1="514.80" x2="61.50" y2="519.80" stroke="#000" stroke-width="2"/>
<line x1="106.44" y1="514.80" x2="106.44" y2="519.80" stroke="#000" stroke-width="2"/>
<line x1="151.37" y1="514.80" x2="151.37" y2="519.80" stroke="#000" stroke-width="2"/>
<line x1="196.30" y1="514.80" x2="196.30" y2="519.80" stroke="#000" stroke-width="2"/>
<line x1="241.23" y1="514.80" x2="241.23" y2="519.80" stroke="#000" stroke-width="2"/>
<line x1="286.17" y1="514.80" x2="286.17" y2="519.80" stroke="#000" stroke-width="2"/>
<line x1="331.10" y1="514.80" x2="331.10" y2="519.80" stroke="#000" stroke-width="2"/>
<line x1="83.97" y1="514.80" x2="83.97" y2="517.80" stroke="#000" stroke-width="2"/>
<line x1="128.90" y1="514.80" x2="128.90" y2="517.80" stroke="#000" stroke-width="2"/>
<line x1="173.83" y1="514.80" x2="173.83" y2="517.80" stroke="#000" stroke-width="2"/>
<line x1="218.77" y1="514.80" x2="218.77" y2="517.80" stroke="#000" stroke-width="2"/>
<line x1="263.70" y1="514.80" x2="263.70" y2="517.80" stroke="#000" stroke-width="2"/>
<line x1="308.63" y1="514.80" x2="308.63" y2="517.80" stroke="#000" stroke-width="2"/>
<text x="44.80" y="503.79" font-family='"Liberation Sans",sans-serif' font-weight="bold" font-size="13.3" fill="#000" text-anchor="end">0</text>
<text x="44.80" y="473.92" font-family='"Liberation Sans",sans-serif' font-weight="bold" font-size="13.3" fill="#000" text-anchor="end">5</text>
<text x="44.80" y="444.05" font-family='"Liberation Sans",sans-serif' font-weight="bold" font-size="13.3" fill="#000" text-anchor="end">10</text>
<text x="44.80" y="414.19" font-family='"Liberation Sans",sans-serif' font-weight="bold" font-size="13.3" fill="#000" text-anchor="end">15</text>
<text x="44.80" y="384.32" font-family='"Liberation Sans",sans-serif' font-weight="bold" font-size="13.3" fill="#000" text-anchor="end">20</text>
<text x="44.80" y="354.45" font-family='"Liberation Sans",sans-serif' font-weight="bold" font-size="13.3" fill="#000" text-anchor="end">25</text>
<text x="44.80" y="324.59" font-family='"Liberation Sans",sans-serif' font-weight="bold" font-size="13.3" fill="#000" text-anchor="end">30</text>
<text x="44.80" y="294.72" font-family='"Liberation Sans",sans-serif' font-weight="bold" font-size="13.3" fill="#000" text-anchor="end">35</text>
<text x="61.50" y="533.20" font-family='"Liberation Sans",sans-serif' font-weight="bold" font-size="13.3" fill="#000" text-anchor="middle">5</text>
<text x="106.44" y="533.20" font-family='"Liberation Sans",sans-serif' font-weight="bold" font-size="13.3" fill="#000" text-anchor="middle">10</text>
<text x="151.37" y="533.20" font-family='"Liberation Sans",sans-serif' font-weight="bold" font-size="13.3" fill="#000" text-anchor="middle">15</text>
<text x="196.30" y="533.20" font-family='"Liberation Sans",sans-serif' font-weight="bold" font-size="13.3" fill="#000" text-anchor="middle">20</text>
<text x="241.23" y="533.20" font-family='"Liberation Sans",sans-serif' font-weight="bold" font-size="13.3" fill="#000" text-anchor="middle">25</text>
<text x="286.17" y="533.20" font-family='"Liberation Sans",sans-serif' font-weight="bold" font-size="13.3" fill="#000" text-anchor="middle">30</text>
<text x="331.10" y="533.20" font-family='"Liberation Sans",sans-serif' font-weight="bold" font-size="13.3" fill="#000" text-anchor="middle">35</text>
<text x="15.00" y="525.60" font-family='"Liberation Sans",sans-serif' font-weight="bold" font-size="13.3" fill="#000" text-anchor="start" textLength="251.01" lengthAdjust="spacingAndGlyphs" transform="rotate(-90 15.00 525.60)">Hemoglobin from measurement 2 (gm/dL)</text>
<text x="64.50" y="553.40" font-family='"Liberation Sans",sans-serif' font-weight="bold" font-size="12.9" fill="#000" text-anchor="start" textLength="251.51" lengthAdjust="spacingAndGlyphs">Hemoglobin from measurement 1 (gm/dL)</text>
<text x="55.00" y="301.30" font-family='"Liberation Serif",serif' font-weight="bold" font-size="12.2" fill="#000" text-anchor="start" textLength="14.93" lengthAdjust="spacingAndGlyphs">(b)</text>
<text x="66.60" y="312.50" font-family='"Liberation Sans",sans-serif' font-weight="bold" font-size="12.7" fill="#000" text-anchor="start" textLength="79.80" lengthAdjust="spacingAndGlyphs">Slope = 0.783</text>
<text x="66.40" y="328.40" font-family='"Liberation Sans",sans-serif' font-weight="bold" font-size="12.7" fill="#000" text-anchor="start" textLength="99.70" lengthAdjust="spacingAndGlyphs">Intercept = 2.956</text>
<text x="66.40" y="344.50" font-family='"Liberation Sans",sans-serif' font-weight="bold" font-size="12.7" fill="#000" text-anchor="start" textLength="64.88" lengthAdjust="spacingAndGlyphs">r = 0.96642</text>
<line x1="148.80" y1="471.40" x2="173.60" y2="471.40" stroke="#000" stroke-width="2.2"/>
<text x="176.50" y="475.00" font-family='"Liberation Sans",sans-serif' font-weight="bold" font-size="12.7" fill="#000" text-anchor="start" textLength="104.73" lengthAdjust="spacingAndGlyphs">Linear regression</text>
<line x1="148.80" y1="487.40" x2="161.60" y2="487.40" stroke="#800000" stroke-width="2.5"/>
<text x="176.50" y="490.70" font-family='"Liberation Sans",sans-serif' font-weight="bold" font-size="12.7" fill="#000" text-anchor="start" textLength="152.31" lengthAdjust="spacingAndGlyphs">95% Confidence intervals</text>
<path d="M148.8 503.5 H154.6 M159 503.5 H166.3 M171.4 503.5 H174.3" stroke="#008080" stroke-width="2.7" fill="none"/>
<text x="176.50" y="506.30" font-family='"Liberation Sans",sans-serif' font-weight="bold" font-size="12.7" fill="#000" text-anchor="start" textLength="145.60" lengthAdjust="spacingAndGlyphs">95% Prediction intervals</text>
<line x1="383.45" y1="326.00" x2="658.50" y2="326.00" stroke="#0000ff" stroke-width="2.7" stroke-dasharray="3.90 7.70" stroke-linecap="round"/>
<line x1="383.45" y1="457.40" x2="658.50" y2="457.40" stroke="#0000ff" stroke-width="2.7" stroke-dasharray="3.90 7.70" stroke-linecap="round"/>
<line x1="383.10" y1="391.50" x2="659.50" y2="391.50" stroke="#ff0000" stroke-width="3.2"/>
<circle cx="425.70" cy="398.20" r="4.6" fill="#8000ff" stroke="#000" stroke-width="1.7"/>
<ellipse cx="425.70" cy="398.20" rx="1.40" ry="1.00" fill="#000"/>
<circle cx="427.00" cy="379.10" r="4.6" fill="#8000ff" stroke="#000" stroke-width="1.7"/>
<ellipse cx="427.00" cy="379.10" rx="1.40" ry="1.00" fill="#000"/>
<circle cx="436.50" cy="378.50" r="4.6" fill="#8000ff" stroke="#000" stroke-width="1.7"/>
<ellipse cx="436.50" cy="378.50" rx="1.40" ry="1.00" fill="#000"/>
<circle cx="436.50" cy="394.20" r="4.6" fill="#8000ff" stroke="#000" stroke-width="1.7"/>
<ellipse cx="436.50" cy="394.20" rx="1.40" ry="1.00" fill="#000"/>
<circle cx="441.80" cy="373.60" r="4.6" fill="#8000ff" stroke="#000" stroke-width="1.7"/>
<ellipse cx="441.80" cy="373.60" rx="1.40" ry="1.00" fill="#000"/>
<circle cx="447.70" cy="367.00" r="4.6" fill="#8000ff" stroke="#000" stroke-width="1.7"/>
<ellipse cx="447.70" cy="367.00" rx="1.40" ry="1.00" fill="#000"/>
<circle cx="452.90" cy="384.40" r="4.6" fill="#8000ff" stroke="#000" stroke-width="1.7"/>
<ellipse cx="452.90" cy="384.40" rx="1.40" ry="1.00" fill="#000"/>
<circle cx="453.90" cy="423.80" r="4.6" fill="#8000ff" stroke="#000" stroke-width="1.7"/>
<ellipse cx="453.90" cy="423.80" rx="1.40" ry="1.00" fill="#000"/>
<circle cx="456.50" cy="373.60" r="4.6" fill="#8000ff" stroke="#000" stroke-width="1.7"/>
<ellipse cx="456.50" cy="373.60" rx="1.40" ry="1.00" fill="#000"/>
<circle cx="461.20" cy="359.20" r="4.6" fill="#8000ff" stroke="#000" stroke-width="1.7"/>
<ellipse cx="461.20" cy="359.20" rx="1.40" ry="1.00" fill="#000"/>
<circle cx="461.50" cy="379.10" r="4.6" fill="#8000ff" stroke="#000" stroke-width="1.7"/>
<ellipse cx="461.50" cy="379.10" rx="1.40" ry="1.00" fill="#000"/>
<circle cx="463.40" cy="385.00" r="4.6" fill="#8000ff" stroke="#000" stroke-width="1.7"/>
<ellipse cx="463.40" cy="385.00" rx="1.40" ry="1.00" fill="#000"/>
<circle cx="463.40" cy="398.80" r="4.6" fill="#8000ff" stroke="#000" stroke-width="1.7"/>
<ellipse cx="463.40" cy="398.80" rx="1.40" ry="1.00" fill="#000"/>
<circle cx="464.70" cy="364.70" r="4.6" fill="#8000ff" stroke="#000" stroke-width="1.7"/>
<ellipse cx="464.70" cy="364.70" rx="1.40" ry="1.00" fill="#000"/>
<circle cx="467.40" cy="377.80" r="4.6" fill="#8000ff" stroke="#000" stroke-width="1.7"/>
<ellipse cx="467.40" cy="377.80" rx="1.40" ry="1.00" fill="#000"/>
<circle cx="472.10" cy="395.30" r="4.6" fill="#8000ff" stroke="#000" stroke-width="1.7"/>
<ellipse cx="472.10" cy="395.30" rx="1.40" ry="1.00" fill="#000"/>
<circle cx="475.20" cy="407.30" r="4.6" fill="#8000ff" stroke="#000" stroke-width="1.7"/>
<ellipse cx="475.20" cy="407.30" rx="1.40" ry="1.00" fill="#000"/>
<circle cx="476.20" cy="366.70" r="4.6" fill="#8000ff" stroke="#000" stroke-width="1.7"/>
<ellipse cx="476.20" cy="366.70" rx="1.40" ry="1.00" fill="#000"/>
<circle cx="477.40" cy="388.90" r="4.6" fill="#8000ff" stroke="#000" stroke-width="1.7"/>
<ellipse cx="477.40" cy="388.90" rx="1.40" ry="1.00" fill="#000"/>
<circle cx="481.50" cy="397.70" r="4.6" fill="#8000ff" stroke="#000" stroke-width="1.7"/>
<ellipse cx="481.50" cy="397.70" rx="1.40" ry="1.00" fill="#000"/>
<circle cx="485.50" cy="349.20" r="4.6" fill="#8000ff" stroke="#000" stroke-width="1.7"/>
<ellipse cx="485.50" cy="349.20" rx="1.40" ry="1.00" fill="#000"/>
<circle cx="485.50" cy="379.00" r="4.6" fill="#8000ff" stroke="#000" stroke-width="1.7"/>
<ellipse cx="485.50" cy="379.00" rx="1.40" ry="1.00" fill="#000"/>
<circle cx="486.70" cy="371.40" r="4.6" fill="#8000ff" stroke="#000" stroke-width="1.7"/>
<ellipse cx="486.70" cy="371.40" rx="1.40" ry="1.00" fill="#000"/>
<circle cx="486.70" cy="387.20" r="4.6" fill="#8000ff" stroke="#000" stroke-width="1.7"/>
<ellipse cx="486.70" cy="387.20" rx="1.40" ry="1.00" fill="#000"/>
<circle cx="489.60" cy="346.30" r="4.6" fill="#8000ff" stroke="#000" stroke-width="1.7"/>
<ellipse cx="489.60" cy="346.30" rx="1.40" ry="1.00" fill="#000"/>
<circle cx="492.50" cy="408.00" r="4.6" fill="#8000ff" stroke="#000" stroke-width="1.7"/>
<ellipse cx="492.50" cy="408.00" rx="1.40" ry="1.00" fill="#000"/>
<circle cx="494.30" cy="344.50" r="4.6" fill="#8000ff" stroke="#000" stroke-width="1.7"/>
<ellipse cx="494.30" cy="344.50" rx="1.40" ry="1.00" fill="#000"/>
<circle cx="496.60" cy="380.10" r="4.6" fill="#8000ff" stroke="#000" stroke-width="1.7"/>
<ellipse cx="496.60" cy="380.10" rx="1.40" ry="1.00" fill="#000"/>
<circle cx="497.20" cy="393.00" r="4.6" fill="#8000ff" stroke="#000" stroke-width="1.7"/>
<ellipse cx="497.20" cy="393.00" rx="1.40" ry="1.00" fill="#000"/>
<circle cx="498.20" cy="331.70" r="4.6" fill="#8000ff" stroke="#000" stroke-width="1.7"/>
<ellipse cx="498.20" cy="331.70" rx="1.40" ry="1.00" fill="#000"/>
<circle cx="501.90" cy="366.10" r="4.6" fill="#8000ff" stroke="#000" stroke-width="1.7"/>
<ellipse cx="501.90" cy="366.10" rx="1.40" ry="1.00" fill="#000"/>
<circle cx="503.10" cy="387.20" r="4.6" fill="#8000ff" stroke="#000" stroke-width="1.7"/>
<ellipse cx="503.10" cy="387.20" rx="1.40" ry="1.00" fill="#000"/>
<circle cx="504.80" cy="358.50" r="4.6" fill="#8000ff" stroke="#000" stroke-width="1.7"/>
<ellipse cx="504.80" cy="358.50" rx="1.40" ry="1.00" fill="#000"/>
<circle cx="505.00" cy="411.90" r="4.6" fill="#8000ff" stroke="#000" stroke-width="1.7"/>
<ellipse cx="505.00" cy="411.90" rx="1.40" ry="1.00" fill="#000"/>
<circle cx="506.60" cy="383.10" r="4.6" fill="#8000ff" stroke="#000" stroke-width="1.7"/>
<ellipse cx="506.60" cy="383.10" rx="1.40" ry="1.00" fill="#000"/>
<circle cx="508.90" cy="374.30" r="4.6" fill="#8000ff" stroke="#000" stroke-width="1.7"/>
<ellipse cx="508.90" cy="374.30" rx="1.40" ry="1.00" fill="#000"/>
<circle cx="510.10" cy="358.50" r="4.6" fill="#8000ff" stroke="#000" stroke-width="1.7"/>
<ellipse cx="510.10" cy="358.50" rx="1.40" ry="1.00" fill="#000"/>
<circle cx="510.70" cy="345.10" r="4.6" fill="#8000ff" stroke="#000" stroke-width="1.7"/>
<ellipse cx="510.70" cy="345.10" rx="1.40" ry="1.00" fill="#000"/>
<circle cx="512.20" cy="413.20" r="4.6" fill="#8000ff" stroke="#000" stroke-width="1.7"/>
<ellipse cx="512.20" cy="413.20" rx="1.40" ry="1.00" fill="#000"/>
<circle cx="514.70" cy="397.10" r="4.6" fill="#8000ff" stroke="#000" stroke-width="1.7"/>
<ellipse cx="514.70" cy="397.10" rx="1.40" ry="1.00" fill="#000"/>
<circle cx="515.90" cy="348.00" r="4.6" fill="#8000ff" stroke="#000" stroke-width="1.7"/>
<ellipse cx="515.90" cy="348.00" rx="1.40" ry="1.00" fill="#000"/>
<circle cx="516.80" cy="405.40" r="4.6" fill="#8000ff" stroke="#000" stroke-width="1.7"/>
<ellipse cx="516.80" cy="405.40" rx="1.40" ry="1.00" fill="#000"/>
<circle cx="517.70" cy="369.00" r="4.6" fill="#8000ff" stroke="#000" stroke-width="1.7"/>
<ellipse cx="517.70" cy="369.00" rx="1.40" ry="1.00" fill="#000"/>
<circle cx="518.10" cy="444.80" r="4.6" fill="#8000ff" stroke="#000" stroke-width="1.7"/>
<ellipse cx="518.10" cy="444.80" rx="1.40" ry="1.00" fill="#000"/>
<circle cx="518.80" cy="387.70" r="4.6" fill="#8000ff" stroke="#000" stroke-width="1.7"/>
<ellipse cx="518.80" cy="387.70" rx="1.40" ry="1.00" fill="#000"/>
<circle cx="520.10" cy="423.80" r="4.6" fill="#8000ff" stroke="#000" stroke-width="1.7"/>
<ellipse cx="520.10" cy="423.80" rx="1.40" ry="1.00" fill="#000"/>
<circle cx="522.30" cy="388.30" r="4.6" fill="#8000ff" stroke="#000" stroke-width="1.7"/>
<ellipse cx="522.30" cy="388.30" rx="1.40" ry="1.00" fill="#000"/>
<circle cx="525.20" cy="369.10" r="4.6" fill="#8000ff" stroke="#000" stroke-width="1.7"/>
<ellipse cx="525.20" cy="369.10" rx="1.40" ry="1.00" fill="#000"/>
<circle cx="526.40" cy="364.10" r="4.6" fill="#8000ff" stroke="#000" stroke-width="1.7"/>
<ellipse cx="526.40" cy="364.10" rx="1.40" ry="1.00" fill="#000"/>
<circle cx="528.70" cy="382.50" r="4.6" fill="#8000ff" stroke="#000" stroke-width="1.7"/>
<ellipse cx="528.70" cy="382.50" rx="1.40" ry="1.00" fill="#000"/>
<circle cx="529.90" cy="390.10" r="4.6" fill="#8000ff" stroke="#000" stroke-width="1.7"/>
<ellipse cx="529.90" cy="390.10" rx="1.40" ry="1.00" fill="#000"/>
<circle cx="531.00" cy="395.90" r="4.6" fill="#8000ff" stroke="#000" stroke-width="1.7"/>
<ellipse cx="531.00" cy="395.90" rx="1.40" ry="1.00" fill="#000"/>
<circle cx="531.20" cy="427.00" r="4.6" fill="#8000ff" stroke="#000" stroke-width="1.7"/>
<ellipse cx="531.20" cy="427.00" rx="1.40" ry="1.00" fill="#000"/>
<circle cx="533.90" cy="354.80" r="4.6" fill="#8000ff" stroke="#000" stroke-width="1.7"/>
<ellipse cx="533.90" cy="354.80" rx="1.40" ry="1.00" fill="#000"/>
<circle cx="533.90" cy="380.10" r="4.6" fill="#8000ff" stroke="#000" stroke-width="1.7"/>
<ellipse cx="533.90" cy="380.10" rx="1.40" ry="1.00" fill="#000"/>
<circle cx="533.90" cy="414.60" r="4.6" fill="#8000ff" stroke="#000" stroke-width="1.7"/>
<ellipse cx="533.90" cy="414.60" rx="1.40" ry="1.00" fill="#000"/>
<circle cx="534.30" cy="343.90" r="4.6" fill="#8000ff" stroke="#000" stroke-width="1.7"/>
<ellipse cx="534.30" cy="343.90" rx="1.40" ry="1.00" fill="#000"/>
<circle cx="534.90" cy="446.80" r="4.6" fill="#8000ff" stroke="#000" stroke-width="1.7"/>
<ellipse cx="534.90" cy="446.80" rx="1.40" ry="1.00" fill="#000"/>
<circle cx="535.70" cy="337.50" r="4.6" fill="#8000ff" stroke="#000" stroke-width="1.7"/>
<ellipse cx="535.70" cy="337.50" rx="1.40" ry="1.00" fill="#000"/>
<circle cx="535.80" cy="404.70" r="4.6" fill="#8000ff" stroke="#000" stroke-width="1.7"/>
<ellipse cx="535.80" cy="404.70" rx="1.40" ry="1.00" fill="#000"/>
<circle cx="539.00" cy="397.10" r="4.6" fill="#8000ff" stroke="#000" stroke-width="1.7"/>
<ellipse cx="539.00" cy="397.10" rx="1.40" ry="1.00" fill="#000"/>
<circle cx="540.10" cy="365.90" r="4.6" fill="#8000ff" stroke="#000" stroke-width="1.7"/>
<ellipse cx="540.10" cy="365.90" rx="1.40" ry="1.00" fill="#000"/>
<circle cx="541.00" cy="335.20" r="4.6" fill="#8000ff" stroke="#000" stroke-width="1.7"/>
<ellipse cx="541.00" cy="335.20" rx="1.40" ry="1.00" fill="#000"/>
<circle cx="542.80" cy="417.80" r="4.6" fill="#8000ff" stroke="#000" stroke-width="1.7"/>
<ellipse cx="542.80" cy="417.80" rx="1.40" ry="1.00" fill="#000"/>
<circle cx="543.10" cy="406.70" r="4.6" fill="#8000ff" stroke="#000" stroke-width="1.7"/>
<ellipse cx="543.10" cy="406.70" rx="1.40" ry="1.00" fill="#000"/>
<circle cx="545.70" cy="449.50" r="4.6" fill="#8000ff" stroke="#000" stroke-width="1.7"/>
<ellipse cx="545.70" cy="449.50" rx="1.40" ry="1.00" fill="#000"/>
<circle cx="547.10" cy="383.10" r="4.6" fill="#8000ff" stroke="#000" stroke-width="1.7"/>
<ellipse cx="547.10" cy="383.10" rx="1.40" ry="1.00" fill="#000"/>
<circle cx="548.50" cy="377.20" r="4.6" fill="#8000ff" stroke="#000" stroke-width="1.7"/>
<ellipse cx="548.50" cy="377.20" rx="1.40" ry="1.00" fill="#000"/>
<circle cx="549.10" cy="335.20" r="4.6" fill="#8000ff" stroke="#000" stroke-width="1.7"/>
<ellipse cx="549.10" cy="335.20" rx="1.40" ry="1.00" fill="#000"/>
<circle cx="550.90" cy="408.70" r="4.6" fill="#8000ff" stroke="#000" stroke-width="1.7"/>
<ellipse cx="550.90" cy="408.70" rx="1.40" ry="1.00" fill="#000"/>
<circle cx="552.60" cy="369.10" r="4.6" fill="#8000ff" stroke="#000" stroke-width="1.7"/>
<ellipse cx="552.60" cy="369.10" rx="1.40" ry="1.00" fill="#000"/>
<circle cx="552.90" cy="414.60" r="4.6" fill="#8000ff" stroke="#000" stroke-width="1.7"/>
<ellipse cx="552.90" cy="414.60" rx="1.40" ry="1.00" fill="#000"/>
<circle cx="555.50" cy="421.80" r="4.6" fill="#8000ff" stroke="#000" stroke-width="1.7"/>
<ellipse cx="555.50" cy="421.80" rx="1.40" ry="1.00" fill="#000"/>
<circle cx="556.70" cy="367.90" r="4.6" fill="#8000ff" stroke="#000" stroke-width="1.7"/>
<ellipse cx="556.70" cy="367.90" rx="1.40" ry="1.00" fill="#000"/>
<circle cx="556.90" cy="408.00" r="4.6" fill="#8000ff" stroke="#000" stroke-width="1.7"/>
<ellipse cx="556.90" cy="408.00" rx="1.40" ry="1.00" fill="#000"/>
<circle cx="556.90" cy="441.80" r="4.6" fill="#8000ff" stroke="#000" stroke-width="1.7"/>
<ellipse cx="556.90" cy="441.80" rx="1.40" ry="1.00" fill="#000"/>
<circle cx="557.90" cy="376.60" r="4.6" fill="#8000ff" stroke="#000" stroke-width="1.7"/>
<ellipse cx="557.90" cy="376.60" rx="1.40" ry="1.00" fill="#000"/>
<circle cx="560.20" cy="383.60" r="4.6" fill="#8000ff" stroke="#000" stroke-width="1.7"/>
<ellipse cx="560.20" cy="383.60" rx="1.40" ry="1.00" fill="#000"/>
<circle cx="563.70" cy="385.40" r="4.6" fill="#8000ff" stroke="#000" stroke-width="1.7"/>
<ellipse cx="563.70" cy="385.40" rx="1.40" ry="1.00" fill="#000"/>
<circle cx="568.90" cy="482.80" r="4.6" fill="#8000ff" stroke="#000" stroke-width="1.7"/>
<ellipse cx="568.90" cy="482.80" rx="1.40" ry="1.00" fill="#000"/>
<circle cx="570.00" cy="400.80" r="4.6" fill="#8000ff" stroke="#000" stroke-width="1.7"/>
<ellipse cx="570.00" cy="400.80" rx="1.40" ry="1.00" fill="#000"/>
<circle cx="571.30" cy="413.60" r="4.6" fill="#8000ff" stroke="#000" stroke-width="1.7"/>
<ellipse cx="571.30" cy="413.60" rx="1.40" ry="1.00" fill="#000"/>
<circle cx="571.50" cy="462.30" r="4.6" fill="#8000ff" stroke="#000" stroke-width="1.7"/>
<ellipse cx="571.50" cy="462.30" rx="1.40" ry="1.00" fill="#000"/>
<circle cx="575.50" cy="476.70" r="4.6" fill="#8000ff" stroke="#000" stroke-width="1.7"/>
<ellipse cx="575.50" cy="476.70" rx="1.40" ry="1.00" fill="#000"/>
<circle cx="577.30" cy="403.70" r="4.6" fill="#8000ff" stroke="#000" stroke-width="1.7"/>
<ellipse cx="577.30" cy="403.70" rx="1.40" ry="1.00" fill="#000"/>
<circle cx="583.00" cy="379.60" r="4.6" fill="#8000ff" stroke="#000" stroke-width="1.7"/>
<ellipse cx="583.00" cy="379.60" rx="1.40" ry="1.00" fill="#000"/>
<circle cx="585.50" cy="466.80" r="4.6" fill="#8000ff" stroke="#000" stroke-width="1.7"/>
<ellipse cx="585.50" cy="466.80" rx="1.40" ry="1.00" fill="#000"/>
<circle cx="587.40" cy="441.00" r="4.6" fill="#8000ff" stroke="#000" stroke-width="1.7"/>
<ellipse cx="587.40" cy="441.00" rx="1.40" ry="1.00" fill="#000"/>
<circle cx="591.00" cy="414.00" r="4.6" fill="#8000ff" stroke="#000" stroke-width="1.7"/>
<ellipse cx="591.00" cy="414.00" rx="1.40" ry="1.00" fill="#000"/>
<circle cx="595.60" cy="388.50" r="4.6" fill="#8000ff" stroke="#000" stroke-width="1.7"/>
<ellipse cx="595.60" cy="388.50" rx="1.40" ry="1.00" fill="#000"/>
<circle cx="601.50" cy="431.40" r="4.6" fill="#8000ff" stroke="#000" stroke-width="1.7"/>
<ellipse cx="601.50" cy="431.40" rx="1.40" ry="1.00" fill="#000"/>
<path d="M383.10 283.30 H659.50 V515.90 H383.10 Z" fill="none" stroke="#000" stroke-width="1.9" stroke-linejoin="miter" stroke-linecap="square"/>
<line x1="378.60" y1="498.01" x2="383.10" y2="498.01" stroke="#000" stroke-width="1.8"/>
<line x1="378.60" y1="462.22" x2="383.10" y2="462.22" stroke="#000" stroke-width="1.8"/>
<line x1="378.60" y1="426.44" x2="383.10" y2="426.44" stroke="#000" stroke-width="1.8"/>
<line x1="378.60" y1="390.65" x2="383.10" y2="390.65" stroke="#000" stroke-width="1.8"/>
<line x1="378.60" y1="354.87" x2="383.10" y2="354.87" stroke="#000" stroke-width="1.8"/>
<line x1="378.60" y1="319.08" x2="383.10" y2="319.08" stroke="#000" stroke-width="1.8"/>
<line x1="378.60" y1="283.30" x2="383.10" y2="283.30" stroke="#000" stroke-width="1.8"/>
<line x1="380.60" y1="515.90" x2="383.10" y2="515.90" stroke="#000" stroke-width="1.8"/>
<line x1="380.60" y1="480.12" x2="383.10" y2="480.12" stroke="#000" stroke-width="1.8"/>
<line x1="380.60" y1="444.33" x2="383.10" y2="444.33" stroke="#000" stroke-width="1.8"/>
<line x1="380.60" y1="408.55" x2="383.10" y2="408.55" stroke="#000" stroke-width="1.8"/>
<line x1="380.60" y1="372.76" x2="383.10" y2="372.76" stroke="#000" stroke-width="1.8"/>
<line x1="380.60" y1="336.98" x2="383.10" y2="336.98" stroke="#000" stroke-width="1.8"/>
<line x1="380.60" y1="301.19" x2="383.10" y2="301.19" stroke="#000" stroke-width="1.8"/>
<line x1="406.13" y1="515.90" x2="406.13" y2="520.40" stroke="#000" stroke-width="1.8"/>
<line x1="452.20" y1="515.90" x2="452.20" y2="520.40" stroke="#000" stroke-width="1.8"/>
<line x1="498.27" y1="515.90" x2="498.27" y2="520.40" stroke="#000" stroke-width="1.8"/>
<line x1="544.33" y1="515.90" x2="544.33" y2="520.40" stroke="#000" stroke-width="1.8"/>
<line x1="590.40" y1="515.90" x2="590.40" y2="520.40" stroke="#000" stroke-width="1.8"/>
<line x1="636.47" y1="515.90" x2="636.47" y2="520.40" stroke="#000" stroke-width="1.8"/>
<line x1="429.17" y1="515.90" x2="429.17" y2="518.90" stroke="#000" stroke-width="1.8"/>
<line x1="475.23" y1="515.90" x2="475.23" y2="518.90" stroke="#000" stroke-width="1.8"/>
<line x1="521.30" y1="515.90" x2="521.30" y2="518.90" stroke="#000" stroke-width="1.8"/>
<line x1="567.37" y1="515.90" x2="567.37" y2="518.90" stroke="#000" stroke-width="1.8"/>
<line x1="613.43" y1="515.90" x2="613.43" y2="518.90" stroke="#000" stroke-width="1.8"/>
<text x="375.60" y="501.94" font-family='"Liberation Sans",sans-serif' font-weight="bold" font-size="13.6" fill="#000" text-anchor="end" textLength="17.89" lengthAdjust="spacingAndGlyphs">-15</text>
<text x="375.60" y="466.15" font-family='"Liberation Sans",sans-serif' font-weight="bold" font-size="13.6" fill="#000" text-anchor="end" textLength="17.89" lengthAdjust="spacingAndGlyphs">-10</text>
<text x="375.60" y="430.37" font-family='"Liberation Sans",sans-serif' font-weight="bold" font-size="13.6" fill="#000" text-anchor="end" textLength="11.00" lengthAdjust="spacingAndGlyphs">-5</text>
<text x="375.60" y="394.58" font-family='"Liberation Sans",sans-serif' font-weight="bold" font-size="13.6" fill="#000" text-anchor="end" textLength="6.88" lengthAdjust="spacingAndGlyphs">0</text>
<text x="375.60" y="358.80" font-family='"Liberation Sans",sans-serif' font-weight="bold" font-size="13.6" fill="#000" text-anchor="end" textLength="6.88" lengthAdjust="spacingAndGlyphs">5</text>
<text x="375.60" y="323.01" font-family='"Liberation Sans",sans-serif' font-weight="bold" font-size="13.6" fill="#000" text-anchor="end" textLength="13.77" lengthAdjust="spacingAndGlyphs">10</text>
<text x="375.60" y="287.23" font-family='"Liberation Sans",sans-serif' font-weight="bold" font-size="13.6" fill="#000" text-anchor="end" textLength="13.77" lengthAdjust="spacingAndGlyphs">15</text>
<text x="406.13" y="533.70" font-family='"Liberation Sans",sans-serif' font-weight="bold" font-size="13.6" fill="#000" text-anchor="middle" textLength="6.73" lengthAdjust="spacingAndGlyphs">5</text>
<text x="452.20" y="533.70" font-family='"Liberation Sans",sans-serif' font-weight="bold" font-size="13.6" fill="#000" text-anchor="middle" textLength="13.46" lengthAdjust="spacingAndGlyphs">10</text>
<text x="498.27" y="533.70" font-family='"Liberation Sans",sans-serif' font-weight="bold" font-size="13.6" fill="#000" text-anchor="middle" textLength="13.46" lengthAdjust="spacingAndGlyphs">15</text>
<text x="544.33" y="533.70" font-family='"Liberation Sans",sans-serif' font-weight="bold" font-size="13.6" fill="#000" text-anchor="middle" textLength="13.46" lengthAdjust="spacingAndGlyphs">20</text>
<text x="590.40" y="533.70" font-family='"Liberation Sans",sans-serif' font-weight="bold" font-size="13.6" fill="#000" text-anchor="middle" textLength="13.46" lengthAdjust="spacingAndGlyphs">25</text>
<text x="636.47" y="533.70" font-family='"Liberation Sans",sans-serif' font-weight="bold" font-size="13.6" fill="#000" text-anchor="middle" textLength="13.46" lengthAdjust="spacingAndGlyphs">30</text>
<text x="352.20" y="511.80" font-family='"Liberation Sans",sans-serif' font-weight="bold" font-size="13.4" fill="#000" text-anchor="start" textLength="229.27" lengthAdjust="spacingAndGlyphs" transform="rotate(-90 352.20 511.80)">Difference in measurements (gm/dL)</text>
<text x="427.90" y="548.70" font-family='"Liberation Sans",sans-serif' font-weight="bold" font-size="14.3" fill="#000" text-anchor="start" textLength="200.62" lengthAdjust="spacingAndGlyphs">Average in measurements (gm/dL)</text>
<text x="391.10" y="300.00" font-family='"Liberation Serif",serif' font-weight="bold" font-size="12.2" fill="#000" text-anchor="start" textLength="13.80" lengthAdjust="spacingAndGlyphs">(e)</text>
<text x="389.30" y="317.80" font-family='"Liberation Sans",sans-serif' font-weight="bold" font-size="10.6" fill="#ff8000" text-anchor="start" textLength="72.91" lengthAdjust="spacingAndGlyphs">Mean+1.96SD</text>
<text x="389.00" y="474.40" font-family='"Liberation Sans",sans-serif' font-weight="bold" font-size="10.6" fill="#ff8000" text-anchor="start" textLength="69.90" lengthAdjust="spacingAndGlyphs">Mean-1.96SD</text>
<text x="624.90" y="408.50" font-family='"Liberation Sans",sans-serif' font-weight="bold" font-size="11.5" fill="#ff0000" text-anchor="start" textLength="28.21" lengthAdjust="spacingAndGlyphs">Mean</text>
<ellipse cx="67.6" cy="751.9" rx="3.9" ry="3.3" fill="#008080" stroke="#000" stroke-width="1.5"/>
<ellipse cx="98.9" cy="753.8" rx="3.9" ry="3.3" fill="#008080" stroke="#000" stroke-width="1.5"/>
<ellipse cx="105.2" cy="741.4" rx="3.9" ry="3.3" fill="#008080" stroke="#000" stroke-width="1.5"/>
<ellipse cx="124.4" cy="744.6" rx="3.9" ry="3.3" fill="#008080" stroke="#000" stroke-width="1.5"/>
<ellipse cx="155.9" cy="671.0" rx="3.9" ry="3.3" fill="#008080" stroke="#000" stroke-width="1.5"/>
<ellipse cx="162.0" cy="707.3" rx="3.9" ry="3.3" fill="#008080" stroke="#000" stroke-width="1.5"/>
<ellipse cx="162.5" cy="708.6" rx="3.9" ry="3.3" fill="#008080" stroke="#000" stroke-width="1.5"/>
<ellipse cx="167.7" cy="695.5" rx="3.9" ry="3.3" fill="#008080" stroke="#000" stroke-width="1.5"/>
<ellipse cx="174.3" cy="688.4" rx="3.9" ry="3.3" fill="#008080" stroke="#000" stroke-width="1.5"/>
<ellipse cx="174.3" cy="708.1" rx="3.9" ry="3.3" fill="#008080" stroke="#000" stroke-width="1.5"/>
<ellipse cx="218.4" cy="680.2" rx="3.9" ry="3.3" fill="#008080" stroke="#000" stroke-width="1.5"/>
<ellipse cx="256.5" cy="630.0" rx="3.9" ry="3.3" fill="#008080" stroke="#000" stroke-width="1.5"/>
<ellipse cx="263.2" cy="639.0" rx="3.9" ry="3.3" fill="#008080" stroke="#000" stroke-width="1.5"/>
<ellipse cx="306.9" cy="580.8" rx="3.9" ry="3.3" fill="#008080" stroke="#000" stroke-width="1.5"/>
<ellipse cx="319.8" cy="605.1" rx="3.9" ry="3.3" fill="#008080" stroke="#000" stroke-width="1.5"/>
<ellipse cx="313.4" cy="612.4" rx="3.9" ry="3.3" fill="#008080" stroke="#000" stroke-width="1.5"/>
<line x1="66.60" y1="772.50" x2="320.00" y2="592.20" stroke="#0000ff" stroke-width="3.0"/>
<path d="M61.60 570.80 H344.70 V774.30" fill="none" stroke="#000" stroke-width="2.2" stroke-linecap="square"/>
<path d="M61.60 570.80 V774.30 H344.70" fill="none" stroke="#000" stroke-width="3.0" stroke-linecap="square"/>
<line x1="55.40" y1="774.30" x2="61.60" y2="774.30" stroke="#000" stroke-width="2"/>
<line x1="55.40" y1="751.69" x2="61.60" y2="751.69" stroke="#000" stroke-width="2"/>
<line x1="55.40" y1="729.08" x2="61.60" y2="729.08" stroke="#000" stroke-width="2"/>
<line x1="55.40" y1="706.47" x2="61.60" y2="706.47" stroke="#000" stroke-width="2"/>
<line x1="55.40" y1="683.86" x2="61.60" y2="683.86" stroke="#000" stroke-width="2"/>
<line x1="55.40" y1="661.24" x2="61.60" y2="661.24" stroke="#000" stroke-width="2"/>
<line x1="55.40" y1="638.63" x2="61.60" y2="638.63" stroke="#000" stroke-width="2"/>
<line x1="55.40" y1="616.02" x2="61.60" y2="616.02" stroke="#000" stroke-width="2"/>
<line x1="55.40" y1="593.41" x2="61.60" y2="593.41" stroke="#000" stroke-width="2"/>
<line x1="55.40" y1="570.80" x2="61.60" y2="570.80" stroke="#000" stroke-width="2"/>
<line x1="58.00" y1="762.99" x2="61.60" y2="762.99" stroke="#000" stroke-width="2"/>
<line x1="58.00" y1="740.38" x2="61.60" y2="740.38" stroke="#000" stroke-width="2"/>
<line x1="58.00" y1="717.77" x2="61.60" y2="717.77" stroke="#000" stroke-width="2"/>
<line x1="58.00" y1="695.16" x2="61.60" y2="695.16" stroke="#000" stroke-width="2"/>
<line x1="58.00" y1="672.55" x2="61.60" y2="672.55" stroke="#000" stroke-width="2"/>
<line x1="58.00" y1="649.94" x2="61.60" y2="649.94" stroke="#000" stroke-width="2"/>
<line x1="58.00" y1="627.33" x2="61.60" y2="627.33" stroke="#000" stroke-width="2"/>
<line x1="58.00" y1="604.72" x2="61.60" y2="604.72" stroke="#000" stroke-width="2"/>
<line x1="58.00" y1="582.11" x2="61.60" y2="582.11" stroke="#000" stroke-width="2"/>
<line x1="93.06" y1="774.30" x2="93.06" y2="778.80" stroke="#000" stroke-width="2"/>
<line x1="155.97" y1="774.30" x2="155.97" y2="778.80" stroke="#000" stroke-width="2"/>
<line x1="218.88" y1="774.30" x2="218.88" y2="778.80" stroke="#000" stroke-width="2"/>
<line x1="281.79" y1="774.30" x2="281.79" y2="778.80" stroke="#000" stroke-width="2"/>
<line x1="344.70" y1="774.30" x2="344.70" y2="778.80" stroke="#000" stroke-width="2"/>
<line x1="61.60" y1="774.30" x2="61.60" y2="777.30" stroke="#000" stroke-width="2"/>
<line x1="124.51" y1="774.30" x2="124.51" y2="777.30" stroke="#000" stroke-width="2"/>
<line x1="187.42" y1="774.30" x2="187.42" y2="777.30" stroke="#000" stroke-width="2"/>
<line x1="250.33" y1="774.30" x2="250.33" y2="777.30" stroke="#000" stroke-width="2"/>
<line x1="313.24" y1="774.30" x2="313.24" y2="777.30" stroke="#000" stroke-width="2"/>
<text x="52.80" y="777.42" font-family='"Liberation Serif",serif' font-weight="bold" font-size="12.6" fill="#000" text-anchor="end">55</text>
<text x="52.80" y="754.81" font-family='"Liberation Serif",serif' font-weight="bold" font-size="12.6" fill="#000" text-anchor="end">60</text>
<text x="52.80" y="732.20" font-family='"Liberation Serif",serif' font-weight="bold" font-size="12.6" fill="#000" text-anchor="end">65</text>
<text x="52.80" y="709.59" font-family='"Liberation Serif",serif' font-weight="bold" font-size="12.6" fill="#000" text-anchor="end">70</text>
<text x="52.80" y="686.98" font-family='"Liberation Serif",serif' font-weight="bold" font-size="12.6" fill="#000" text-anchor="end">75</text>
<text x="52.80" y="664.37" font-family='"Liberation Serif",serif' font-weight="bold" font-size="12.6" fill="#000" text-anchor="end">80</text>
<text x="52.80" y="641.75" font-family='"Liberation Serif",serif' font-weight="bold" font-size="12.6" fill="#000" text-anchor="end">85</text>
<text x="52.80" y="619.14" font-family='"Liberation Serif",serif' font-weight="bold" font-size="12.6" fill="#000" text-anchor="end">90</text>
<text x="52.80" y="596.53" font-family='"Liberation Serif",serif' font-weight="bold" font-size="12.6" fill="#000" text-anchor="end">95</text>
<text x="52.80" y="573.92" font-family='"Liberation Serif",serif' font-weight="bold" font-size="12.6" fill="#000" text-anchor="end">100</text>
<text x="93.06" y="790.60" font-family='"Liberation Serif",serif' font-weight="bold" font-size="12.6" fill="#000" text-anchor="middle">60</text>
<text x="155.97" y="790.60" font-family='"Liberation Serif",serif' font-weight="bold" font-size="12.6" fill="#000" text-anchor="middle">70</text>
<text x="218.88" y="790.60" font-family='"Liberation Serif",serif' font-weight="bold" font-size="12.6" fill="#000" text-anchor="middle">80</text>
<text x="281.79" y="790.60" font-family='"Liberation Serif",serif' font-weight="bold" font-size="12.6" fill="#000" text-anchor="middle">90</text>
<text x="344.70" y="790.60" font-family='"Liberation Serif",serif' font-weight="bold" font-size="12.6" fill="#000" text-anchor="middle">100</text>
<text x="23.20" y="750.90" font-family='"Liberation Serif",serif' font-weight="bold" font-size="14.2" fill="#000" text-anchor="start" textLength="22.00" lengthAdjust="spacingAndGlyphs" transform="rotate(-90 23.20 750.90)">SpO</text>
<text x="27.00" y="728.40" font-family='"Liberation Serif",serif' font-weight="bold" font-size="10.8" fill="#000" text-anchor="start" textLength="4.80" lengthAdjust="spacingAndGlyphs" transform="rotate(-90 27.00 728.40)">2</text>
<text x="23.20" y="719.50" font-family='"Liberation Serif",serif' font-weight="bold" font-size="14.2" fill="#000" text-anchor="start" textLength="108.82" lengthAdjust="spacingAndGlyphs" transform="rotate(-90 23.20 719.50)">from Instrument (%)</text>
<text x="115.10" y="810.80" font-family='"Liberation Serif",serif' font-weight="bold" font-size="13.4" fill="#000" text-anchor="start" textLength="24.70" lengthAdjust="spacingAndGlyphs">SpO</text>
<text x="140.10" y="814.00" font-family='"Liberation Serif",serif' font-weight="bold" font-size="10.8" fill="#000" text-anchor="start" textLength="6.20" lengthAdjust="spacingAndGlyphs">2</text>
<text x="150.90" y="810.80" font-family='"Liberation Serif",serif' font-weight="bold" font-size="13.4" fill="#000" text-anchor="start" textLength="139.98" lengthAdjust="spacingAndGlyphs">from pulse oximeter (%)</text>
<text x="66.70" y="586.50" font-family='"Liberation Serif",serif' font-weight="bold" font-size="12.2" fill="#000" text-anchor="start" textLength="13.40" lengthAdjust="spacingAndGlyphs">(c)</text>
<text x="75.80" y="599.80" font-family='"Liberation Serif",serif' font-weight="bold" font-size="11.5" fill="#000" text-anchor="start" textLength="57.22" lengthAdjust="spacingAndGlyphs">Slope: 0.99</text>
<text x="76.00" y="618.90" font-family='"Liberation Serif",serif' font-weight="bold" font-size="11.5" fill="#000" text-anchor="start" textLength="34.86" lengthAdjust="spacingAndGlyphs">Adj. R</text>
<text x="111.40" y="612.80" font-family='"Liberation Serif",serif' font-weight="bold" font-size="10" fill="#000" text-anchor="start" textLength="4.80" lengthAdjust="spacingAndGlyphs">2</text>
<text x="118.00" y="618.90" font-family='"Liberation Serif",serif' font-weight="bold" font-size="11.5" fill="#000" text-anchor="start" textLength="27.38" lengthAdjust="spacingAndGlyphs">: 0.92</text>
<rect x="349.60" y="556.00" width="340.00" height="262.00" fill="#fff" stroke="none" stroke-width="0"/>
<line x1="385.90" y1="608.40" x2="667.20" y2="608.40" stroke="#0000ff" stroke-width="2.6" stroke-dasharray="4.00 7.80" stroke-linecap="round"/>
<line x1="385.90" y1="740.40" x2="667.20" y2="740.40" stroke="#0000ff" stroke-width="2.6" stroke-dasharray="4.00 7.80" stroke-linecap="round"/>
<line x1="385.30" y1="674.00" x2="668.20" y2="674.00" stroke="#ff0000" stroke-width="2.9"/>
<ellipse cx="405.10" cy="628.70" rx="4.7" ry="4.2" fill="#ff0090" stroke="#000" stroke-width="1.7"/>
<ellipse cx="405.10" cy="628.70" rx="1.40" ry="1.00" fill="#000"/>
<ellipse cx="418.30" cy="688.90" rx="4.7" ry="4.2" fill="#ff0090" stroke="#000" stroke-width="1.7"/>
<ellipse cx="418.30" cy="688.90" rx="1.40" ry="1.00" fill="#000"/>
<ellipse cx="430.30" cy="669.20" rx="4.7" ry="4.2" fill="#ff0090" stroke="#000" stroke-width="1.7"/>
<ellipse cx="430.30" cy="669.20" rx="1.40" ry="1.00" fill="#000"/>
<ellipse cx="433.20" cy="702.00" rx="4.7" ry="4.2" fill="#ff0090" stroke="#000" stroke-width="1.7"/>
<ellipse cx="433.20" cy="702.00" rx="1.40" ry="1.00" fill="#000"/>
<ellipse cx="482.00" cy="685.60" rx="4.7" ry="4.2" fill="#ff0090" stroke="#000" stroke-width="1.7"/>
<ellipse cx="482.00" cy="685.60" rx="1.40" ry="1.00" fill="#000"/>
<ellipse cx="483.50" cy="681.20" rx="4.7" ry="4.2" fill="#ff0090" stroke="#000" stroke-width="1.7"/>
<ellipse cx="483.50" cy="681.20" rx="1.40" ry="1.00" fill="#000"/>
<ellipse cx="490.50" cy="699.20" rx="4.7" ry="4.2" fill="#ff0090" stroke="#000" stroke-width="1.7"/>
<ellipse cx="490.50" cy="699.20" rx="1.40" ry="1.00" fill="#000"/>
<ellipse cx="495.60" cy="660.90" rx="4.7" ry="4.2" fill="#ff0090" stroke="#000" stroke-width="1.7"/>
<ellipse cx="495.60" cy="660.90" rx="1.40" ry="1.00" fill="#000"/>
<ellipse cx="504.80" cy="589.70" rx="4.7" ry="4.2" fill="#ff0090" stroke="#000" stroke-width="1.7"/>
<ellipse cx="504.80" cy="589.70" rx="1.40" ry="1.00" fill="#000"/>
<ellipse cx="505.40" cy="670.10" rx="4.7" ry="4.2" fill="#ff0090" stroke="#000" stroke-width="1.7"/>
<ellipse cx="505.40" cy="670.10" rx="1.40" ry="1.00" fill="#000"/>
<ellipse cx="530.60" cy="710.10" rx="4.7" ry="4.2" fill="#ff0090" stroke="#000" stroke-width="1.7"/>
<ellipse cx="530.60" cy="710.10" rx="1.40" ry="1.00" fill="#000"/>
<ellipse cx="578.50" cy="697.70" rx="4.7" ry="4.2" fill="#ff0090" stroke="#000" stroke-width="1.7"/>
<ellipse cx="578.50" cy="697.70" rx="1.40" ry="1.00" fill="#000"/>
<ellipse cx="585.30" cy="655.40" rx="4.7" ry="4.2" fill="#ff0090" stroke="#000" stroke-width="1.7"/>
<ellipse cx="585.30" cy="655.40" rx="1.40" ry="1.00" fill="#000"/>
<ellipse cx="625.10" cy="710.10" rx="4.7" ry="4.2" fill="#ff0090" stroke="#000" stroke-width="1.7"/>
<ellipse cx="625.10" cy="710.10" rx="1.40" ry="1.00" fill="#000"/>
<ellipse cx="634.30" cy="700.90" rx="4.7" ry="4.2" fill="#ff0090" stroke="#000" stroke-width="1.7"/>
<ellipse cx="634.30" cy="700.90" rx="1.40" ry="1.00" fill="#000"/>
<ellipse cx="641.50" cy="636.80" rx="4.7" ry="4.2" fill="#ff0090" stroke="#000" stroke-width="1.7"/>
<ellipse cx="641.50" cy="636.80" rx="1.40" ry="1.00" fill="#000"/>
<path d="M385.30 569.80 H668.20 V777.20 H385.30 Z" fill="none" stroke="#000" stroke-width="1.8" stroke-linejoin="miter" stroke-linecap="square"/>
<line x1="380.80" y1="777.20" x2="385.30" y2="777.20" stroke="#000" stroke-width="1.6"/>
<line x1="380.80" y1="756.46" x2="385.30" y2="756.46" stroke="#000" stroke-width="1.6"/>
<line x1="380.80" y1="735.72" x2="385.30" y2="735.72" stroke="#000" stroke-width="1.6"/>
<line x1="380.80" y1="714.98" x2="385.30" y2="714.98" stroke="#000" stroke-width="1.6"/>
<line x1="380.80" y1="694.24" x2="385.30" y2="694.24" stroke="#000" stroke-width="1.6"/>
<line x1="380.80" y1="673.50" x2="385.30" y2="673.50" stroke="#000" stroke-width="1.6"/>
<line x1="380.80" y1="652.76" x2="385.30" y2="652.76" stroke="#000" stroke-width="1.6"/>
<line x1="380.80" y1="632.02" x2="385.30" y2="632.02" stroke="#000" stroke-width="1.6"/>
<line x1="380.80" y1="611.28" x2="385.30" y2="611.28" stroke="#000" stroke-width="1.6"/>
<line x1="380.80" y1="590.54" x2="385.30" y2="590.54" stroke="#000" stroke-width="1.6"/>
<line x1="380.80" y1="569.80" x2="385.30" y2="569.80" stroke="#000" stroke-width="1.6"/>
<line x1="382.80" y1="766.83" x2="385.30" y2="766.83" stroke="#000" stroke-width="1.6"/>
<line x1="382.80" y1="746.09" x2="385.30" y2="746.09" stroke="#000" stroke-width="1.6"/>
<line x1="382.80" y1="725.35" x2="385.30" y2="725.35" stroke="#000" stroke-width="1.6"/>
<line x1="382.80" y1="704.61" x2="385.30" y2="704.61" stroke="#000" stroke-width="1.6"/>
<line x1="382.80" y1="683.87" x2="385.30" y2="683.87" stroke="#000" stroke-width="1.6"/>
<line x1="382.80" y1="663.13" x2="385.30" y2="663.13" stroke="#000" stroke-width="1.6"/>
<line x1="382.80" y1="642.39" x2="385.30" y2="642.39" stroke="#000" stroke-width="1.6"/>
<line x1="382.80" y1="621.65" x2="385.30" y2="621.65" stroke="#000" stroke-width="1.6"/>
<line x1="382.80" y1="600.91" x2="385.30" y2="600.91" stroke="#000" stroke-width="1.6"/>
<line x1="382.80" y1="580.17" x2="385.30" y2="580.17" stroke="#000" stroke-width="1.6"/>
<line x1="385.30" y1="777.20" x2="385.30" y2="781.20" stroke="#000" stroke-width="1.6"/>
<line x1="416.73" y1="777.20" x2="416.73" y2="781.20" stroke="#000" stroke-width="1.6"/>
<line x1="448.17" y1="777.20" x2="448.17" y2="781.20" stroke="#000" stroke-width="1.6"/>
<line x1="479.60" y1="777.20" x2="479.60" y2="781.20" stroke="#000" stroke-width="1.6"/>
<line x1="511.03" y1="777.20" x2="511.03" y2="781.20" stroke="#000" stroke-width="1.6"/>
<line x1="542.47" y1="777.20" x2="542.47" y2="781.20" stroke="#000" stroke-width="1.6"/>
<line x1="573.90" y1="777.20" x2="573.90" y2="781.20" stroke="#000" stroke-width="1.6"/>
<line x1="605.33" y1="777.20" x2="605.33" y2="781.20" stroke="#000" stroke-width="1.6"/>
<line x1="636.77" y1="777.20" x2="636.77" y2="781.20" stroke="#000" stroke-width="1.6"/>
<line x1="668.20" y1="777.20" x2="668.20" y2="781.20" stroke="#000" stroke-width="1.6"/>
<line x1="401.02" y1="777.20" x2="401.02" y2="779.70" stroke="#000" stroke-width="1.6"/>
<line x1="432.45" y1="777.20" x2="432.45" y2="779.70" stroke="#000" stroke-width="1.6"/>
<line x1="463.88" y1="777.20" x2="463.88" y2="779.70" stroke="#000" stroke-width="1.6"/>
<line x1="495.32" y1="777.20" x2="495.32" y2="779.70" stroke="#000" stroke-width="1.6"/>
<line x1="526.75" y1="777.20" x2="526.75" y2="779.70" stroke="#000" stroke-width="1.6"/>
<line x1="558.18" y1="777.20" x2="558.18" y2="779.70" stroke="#000" stroke-width="1.6"/>
<line x1="589.62" y1="777.20" x2="589.62" y2="779.70" stroke="#000" stroke-width="1.6"/>
<line x1="621.05" y1="777.20" x2="621.05" y2="779.70" stroke="#000" stroke-width="1.6"/>
<line x1="652.48" y1="777.20" x2="652.48" y2="779.70" stroke="#000" stroke-width="1.6"/>
<text x="376.90" y="780.38" font-family='"Liberation Sans",sans-serif' font-weight="bold" font-size="11.2" fill="#000" text-anchor="end">-10</text>
<text x="376.90" y="759.64" font-family='"Liberation Sans",sans-serif' font-weight="bold" font-size="11.2" fill="#000" text-anchor="end">-8</text>
<text x="376.90" y="738.90" font-family='"Liberation Sans",sans-serif' font-weight="bold" font-size="11.2" fill="#000" text-anchor="end">-6</text>
<text x="376.90" y="718.16" font-family='"Liberation Sans",sans-serif' font-weight="bold" font-size="11.2" fill="#000" text-anchor="end">-4</text>
<text x="376.90" y="697.42" font-family='"Liberation Sans",sans-serif' font-weight="bold" font-size="11.2" fill="#000" text-anchor="end">-2</text>
<text x="376.90" y="676.68" font-family='"Liberation Sans",sans-serif' font-weight="bold" font-size="11.2" fill="#000" text-anchor="end">0</text>
<text x="376.90" y="655.94" font-family='"Liberation Sans",sans-serif' font-weight="bold" font-size="11.2" fill="#000" text-anchor="end">2</text>
<text x="376.90" y="635.20" font-family='"Liberation Sans",sans-serif' font-weight="bold" font-size="11.2" fill="#000" text-anchor="end">4</text>
<text x="376.90" y="614.46" font-family='"Liberation Sans",sans-serif' font-weight="bold" font-size="11.2" fill="#000" text-anchor="end">6</text>
<text x="376.90" y="593.72" font-family='"Liberation Sans",sans-serif' font-weight="bold" font-size="11.2" fill="#000" text-anchor="end">8</text>
<text x="376.90" y="572.98" font-family='"Liberation Sans",sans-serif' font-weight="bold" font-size="11.2" fill="#000" text-anchor="end">10</text>
<text x="385.30" y="792.80" font-family='"Liberation Sans",sans-serif' font-weight="bold" font-size="11.2" fill="#000" text-anchor="middle">55</text>
<text x="416.73" y="792.80" font-family='"Liberation Sans",sans-serif' font-weight="bold" font-size="11.2" fill="#000" text-anchor="middle">60</text>
<text x="448.17" y="792.80" font-family='"Liberation Sans",sans-serif' font-weight="bold" font-size="11.2" fill="#000" text-anchor="middle">65</text>
<text x="479.60" y="792.80" font-family='"Liberation Sans",sans-serif' font-weight="bold" font-size="11.2" fill="#000" text-anchor="middle">70</text>
<text x="511.03" y="792.80" font-family='"Liberation Sans",sans-serif' font-weight="bold" font-size="11.2" fill="#000" text-anchor="middle">75</text>
<text x="542.47" y="792.80" font-family='"Liberation Sans",sans-serif' font-weight="bold" font-size="11.2" fill="#000" text-anchor="middle">80</text>
<text x="573.90" y="792.80" font-family='"Liberation Sans",sans-serif' font-weight="bold" font-size="11.2" fill="#000" text-anchor="middle">85</text>
<text x="605.33" y="792.80" font-family='"Liberation Sans",sans-serif' font-weight="bold" font-size="11.2" fill="#000" text-anchor="middle">90</text>
<text x="636.77" y="792.80" font-family='"Liberation Sans",sans-serif' font-weight="bold" font-size="11.2" fill="#000" text-anchor="middle">95</text>
<text x="668.20" y="792.80" font-family='"Liberation Sans",sans-serif' font-weight="bold" font-size="11.2" fill="#000" text-anchor="middle">100</text>
<text x="362.60" y="762.90" font-family='"Liberation Sans",sans-serif' font-weight="bold" font-size="13" fill="#000" text-anchor="start" textLength="180.13" lengthAdjust="spacingAndGlyphs" transform="rotate(-90 362.60 762.90)">Difference in measurements (%)</text>
<text x="435.30" y="812.70" font-family='"Liberation Sans",sans-serif' font-weight="bold" font-size="12" fill="#000" text-anchor="start" textLength="182.82" lengthAdjust="spacingAndGlyphs">Average in measurements (%)</text>
<text x="391.20" y="585.20" font-family='"Liberation Serif",serif' font-weight="bold" font-size="12.2" fill="#000" text-anchor="start" textLength="12.89" lengthAdjust="spacingAndGlyphs">(f)</text>
<text x="391.50" y="603.10" font-family='"Liberation Sans",sans-serif' font-weight="bold" font-size="10.8" fill="#ff8000" text-anchor="start" textLength="74.61" lengthAdjust="spacingAndGlyphs">Mean+1.96SD</text>
<text x="391.90" y="751.40" font-family='"Liberation Sans",sans-serif' font-weight="bold" font-size="10.8" fill="#ff8000" text-anchor="start" textLength="71.60" lengthAdjust="spacingAndGlyphs">Mean-1.96SD</text>
<text x="631.70" y="685.10" font-family='"Liberation Sans",sans-serif' font-weight="bold" font-size="10.8" fill="#ff0000" text-anchor="start" textLength="28.61" lengthAdjust="spacingAndGlyphs">Mean</text>
</svg>
</body></html>
